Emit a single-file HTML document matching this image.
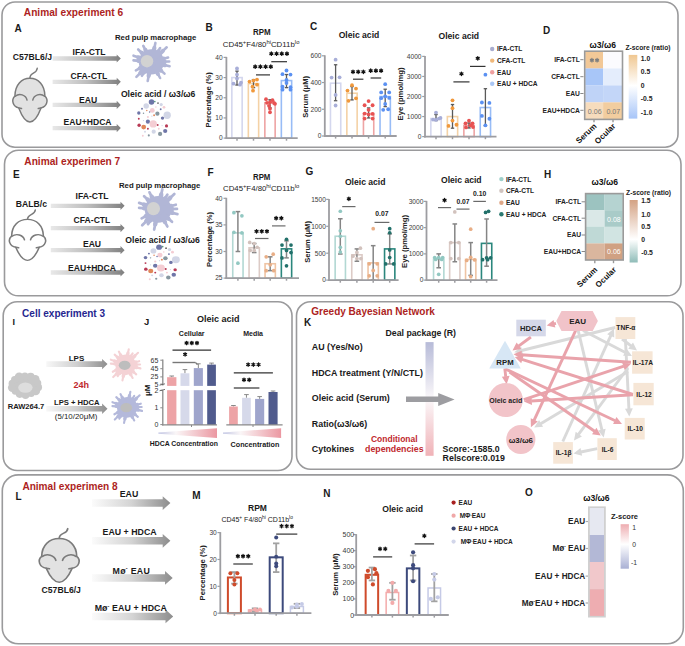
<!DOCTYPE html>
<html><head><meta charset="utf-8"><title>Figure</title>
<style>html,body{margin:0;padding:0;background:#fff;}svg{display:block;}svg text{font-family:"Liberation Sans",sans-serif;}</style>
</head><body>
<svg width="685" height="646" viewBox="0 0 685 646">
<rect width="685" height="646" fill="#ffffff"/>
<defs></defs>
<rect x="2" y="2" width="676" height="145.2" fill="none" stroke="#9a9a9c" stroke-width="1.6" rx="13"/>
<text x="23.8" y="15.8" font-size="10.17" font-weight="bold" text-anchor="start" fill="#ad1f23">Animal experiment 6</text>
<text x="14.4" y="31.8" font-size="10" font-weight="bold" text-anchor="start" fill="#1a1a1a">A</text>
<text x="12.8" y="60.1" font-size="8.65" font-weight="bold" text-anchor="start" fill="#1a1a1a">C57BL6/J</text>
<g transform="translate(29.9 78.3) scale(1.02 1)" fill="#e2e2e2" stroke="#7b7b7b" stroke-width="1.45" stroke-linecap="round" stroke-linejoin="round">
<path d="M0 43.6 C-4.2 43.6 -7.8 38 -10.9 29.6 A7.1 7.1 0 0 1 -14.7 17.6 C-14.5 6.5 -8.3 0 0 0 C8.3 0 14.5 6.5 14.7 17.6 A7.1 7.1 0 0 1 10.9 29.6 C7.8 38 4.2 43.6 0 43.6 Z"/>
<path fill="none" d="M-14.4 18 A7.1 7.1 0 0 1 -2.8 21.8 M14.4 18 A7.1 7.1 0 0 0 2.8 21.8 M-10.9 29.6 L-8.2 30.2 M10.9 29.6 L8.2 30.2"/>
<path fill="none" d="M0 0 C0 -3 1.5 -4.2 3.8 -5.4 C6 -6.6 7 -8 7.2 -10"/>
</g>
<linearGradient id="ga1" gradientUnits="userSpaceOnUse" x1="52.6" y1="0" x2="120.8" y2="0"><stop offset="0" stop-color="#e8e8e8"/><stop offset="0.5" stop-color="#bebebe"/><stop offset="1" stop-color="#7f7f7f"/></linearGradient>
<path d="M52.6 56.35 L116.7 56.35 L116.7 54.4 L120.8 58.5 L116.7 62.6 L116.7 60.65 L52.6 60.65 Z" fill="url(#ga1)"/>
<linearGradient id="ga2" gradientUnits="userSpaceOnUse" x1="52.6" y1="0" x2="120.8" y2="0"><stop offset="0" stop-color="#e8e8e8"/><stop offset="0.5" stop-color="#bebebe"/><stop offset="1" stop-color="#7f7f7f"/></linearGradient>
<path d="M52.6 79.65 L116.7 79.65 L116.7 77.7 L120.8 81.8 L116.7 85.9 L116.7 83.95 L52.6 83.95 Z" fill="url(#ga2)"/>
<linearGradient id="ga3" gradientUnits="userSpaceOnUse" x1="52.6" y1="0" x2="120.8" y2="0"><stop offset="0" stop-color="#e8e8e8"/><stop offset="0.5" stop-color="#bebebe"/><stop offset="1" stop-color="#7f7f7f"/></linearGradient>
<path d="M52.6 102.75 L116.7 102.75 L116.7 100.8 L120.8 104.9 L116.7 109 L116.7 107.05 L52.6 107.05 Z" fill="url(#ga3)"/>
<linearGradient id="ga4" gradientUnits="userSpaceOnUse" x1="52.6" y1="0" x2="120.8" y2="0"><stop offset="0" stop-color="#e8e8e8"/><stop offset="0.5" stop-color="#bebebe"/><stop offset="1" stop-color="#7f7f7f"/></linearGradient>
<path d="M52.6 125.95 L116.7 125.95 L116.7 124 L120.8 128.1 L116.7 132.2 L116.7 130.25 L52.6 130.25 Z" fill="url(#ga4)"/>
<text x="89" y="54.6" font-size="8.6" font-weight="bold" text-anchor="middle" fill="#1a1a1a">IFA-CTL</text>
<text x="89" y="78.6" font-size="8.6" font-weight="bold" text-anchor="middle" fill="#1a1a1a">CFA-CTL</text>
<text x="88.2" y="102.7" font-size="8.6" font-weight="bold" text-anchor="middle" fill="#1a1a1a">EAU</text>
<text x="87.6" y="124.6" font-size="8.6" font-weight="bold" text-anchor="middle" fill="#1a1a1a">EAU+HDCA</text>
<text x="115" y="40.4" font-size="7.75" font-weight="bold" text-anchor="start" fill="#1a1a1a">Red pulp macrophage</text>
<g transform="translate(151.4 61.9) scale(1)">
<circle r="12.6" fill="#b1b6d6"/>
<path d="M2 -9.5 L4 -19 M7.65 -7.3 L15.3 -14.6 M-4.05 -8.05 L-8.1 -16.1 M-6.6 -6.2 L-13.2 -12.4 M-8.95 -3.1 L-17.9 -6.2 M-8.95 -0.75 L-17.9 -1.5 M8.9 -0.2 L17.8 -0.4 M9.1 2.2 L18.2 4.4 M8.35 -2.2 L16.7 -4.4 M6.55 5.85 L13.1 11.7 M4.35 8.05 L8.7 16.1 M-1.85 9.5 L-3.7 19 M-7.5 7.5 L-15 15 M-4.75 6.95 L-9.5 13.9 M4.35 -6.95 L8.7 -13.9 M-7.75 4.25 L-15.5 8.5 " stroke="#b1b6d6" stroke-width="2.6" stroke-linecap="round"/>
<path d="M1.6 -7.6 L2.96 -14.06 M6.12 -5.84 L11.32 -10.8 M-3.24 -6.44 L-5.99 -11.91 M-5.28 -4.96 L-9.77 -9.18 M-7.16 -2.48 L-13.25 -4.59 M-7.16 -0.6 L-13.25 -1.11 M7.12 -0.16 L13.17 -0.3 M7.28 1.76 L13.47 3.26 M6.68 -1.76 L12.36 -3.26 M5.24 4.68 L9.69 8.66 M3.48 6.44 L6.44 11.91 M-1.48 7.6 L-2.74 14.06 M-6 6 L-11.1 11.1 M-3.8 5.56 L-7.03 10.29 M3.48 -5.56 L6.44 -10.29 M-6.2 3.4 L-11.47 6.29 " stroke="#b1b6d6" stroke-width="4.2" stroke-linecap="round"/>
<circle cx="-4.4" cy="-0.7" r="6.2" fill="#d2d2d2"/>
</g>
<text x="120.9" y="97" font-size="8.64" font-weight="bold" text-anchor="start" fill="#1a1a1a">Oleic acid / ω3/ω6</text>
<g transform="translate(153 118.7) scale(1 1) translate(-153 -118.7)">
<circle cx="151.5" cy="102" r="2.73" fill="#6f76a8"/>
<circle cx="154.8" cy="101.5" r="0.84" fill="#5a9a80"/>
<circle cx="158" cy="103.1" r="0.95" fill="#707070"/>
<circle cx="146.2" cy="106" r="2.73" fill="#d2d6e6"/>
<circle cx="161.2" cy="104.6" r="1.58" fill="#d2d6e6"/>
<circle cx="164" cy="107.3" r="1.37" fill="#f4cdd3"/>
<circle cx="155.9" cy="107.1" r="0.73" fill="#f4cdd3"/>
<circle cx="142" cy="108.8" r="0.95" fill="#6f76a8"/>
<circle cx="146.8" cy="110.6" r="0.73" fill="#e0875a"/>
<circle cx="152.3" cy="110.4" r="2.42" fill="#f4cdd3"/>
<circle cx="149.6" cy="111.9" r="0.73" fill="#6f76a8"/>
<circle cx="160.7" cy="109.3" r="0.95" fill="#6f76a8"/>
<circle cx="138.8" cy="113" r="1.68" fill="#6f76a8"/>
<circle cx="143.5" cy="113.3" r="0.73" fill="#8797a0"/>
<circle cx="157.4" cy="113.7" r="2.1" fill="#8797a0"/>
<circle cx="154.1" cy="115.2" r="0.95" fill="#e0875a"/>
<circle cx="167.2" cy="115.2" r="3.68" fill="#d2d6e6"/>
<circle cx="147.9" cy="117" r="1.05" fill="#f4cdd3"/>
<circle cx="151.9" cy="116.2" r="0.63" fill="#d2d6e6"/>
<circle cx="162.5" cy="118.1" r="1.68" fill="#6f76a8"/>
<circle cx="138.8" cy="118.8" r="0.95" fill="#b83a55"/>
<circle cx="143.5" cy="120.6" r="0.63" fill="#d2d6e6"/>
<circle cx="147.9" cy="121.7" r="2.1" fill="#6f76a8"/>
<circle cx="153.2" cy="123.9" r="3.68" fill="#f4cdd3"/>
<circle cx="139.1" cy="125.2" r="1.68" fill="#b83a55"/>
<circle cx="143.7" cy="127.1" r="2.42" fill="#e0875a"/>
<circle cx="157.7" cy="125" r="0.95" fill="#b83a55"/>
<circle cx="166.5" cy="125.9" r="1.58" fill="#b83a55"/>
<circle cx="147.9" cy="128.8" r="0.95" fill="#b83a55"/>
<circle cx="158.8" cy="128.8" r="0.95" fill="#f4cdd3"/>
<circle cx="153.7" cy="131.7" r="2.1" fill="#d2d6e6"/>
<circle cx="165.2" cy="131" r="2.1" fill="#6f76a8"/>
<circle cx="160.1" cy="133.9" r="2.1" fill="#8797a0"/>
<circle cx="145" cy="131.7" r="0.95" fill="#d2d6e6"/>
<circle cx="148.8" cy="135.4" r="1.05" fill="#8797a0"/>
<circle cx="142.8" cy="135.8" r="0.95" fill="#f4cdd3"/>
<circle cx="162.1" cy="125.6" r="0.63" fill="#d2d6e6"/>
</g>
<text x="205.4" y="30.7" font-size="10" font-weight="bold" text-anchor="start" fill="#1a1a1a">B</text>
<text x="261.8" y="35.4" font-size="9.1" font-weight="bold" text-anchor="middle" fill="#1a1a1a" textLength="17.6" lengthAdjust="spacingAndGlyphs">RPM</text>
<text x="222.8" y="46.6" font-size="7.1" fill="#222" textLength="76.6" lengthAdjust="spacingAndGlyphs">CD45<tspan font-size="5.3" dy="-3">+</tspan><tspan dy="3">F4/80</tspan><tspan font-size="5.3" dy="-3">hi</tspan><tspan dy="3">CD11b</tspan><tspan font-size="5.3" dy="-3">lo</tspan></text>
<text x="211.3" y="99.8" font-size="7.65" font-weight="bold" text-anchor="middle" fill="#222" transform="rotate(-90 211.3 99.8)">Percentage (%)</text>
<rect x="231.85" y="77.58" width="10.3" height="60.52" fill="#ffffff" stroke="#d4d7ee" stroke-width="1.6" rx="0"/>
<rect x="248.35" y="83.63" width="10.3" height="54.47" fill="#ffffff" stroke="#f4d2a6" stroke-width="1.6" rx="0"/>
<rect x="264.85" y="102.79" width="10.3" height="35.31" fill="#ffffff" stroke="#eea4a4" stroke-width="1.6" rx="0"/>
<rect x="281.35" y="80.6" width="10.3" height="57.5" fill="#ffffff" stroke="#98bcf6" stroke-width="1.6" rx="0"/>
<line x1="237" y1="85.04" x2="237" y2="71.12" stroke="#5a5a5a" stroke-width="1.3"/>
<line x1="235.3" y1="85.04" x2="238.7" y2="85.04" stroke="#5a5a5a" stroke-width="1.3"/>
<line x1="235.3" y1="71.12" x2="238.7" y2="71.12" stroke="#5a5a5a" stroke-width="1.3"/>
<line x1="253.5" y1="87.66" x2="253.5" y2="79.59" stroke="#5a5a5a" stroke-width="1.3"/>
<line x1="251.8" y1="87.66" x2="255.2" y2="87.66" stroke="#5a5a5a" stroke-width="1.3"/>
<line x1="251.8" y1="79.59" x2="255.2" y2="79.59" stroke="#5a5a5a" stroke-width="1.3"/>
<line x1="270" y1="107.84" x2="270" y2="99.77" stroke="#5a5a5a" stroke-width="1.3"/>
<line x1="268.3" y1="107.84" x2="271.7" y2="107.84" stroke="#5a5a5a" stroke-width="1.3"/>
<line x1="268.3" y1="99.77" x2="271.7" y2="99.77" stroke="#5a5a5a" stroke-width="1.3"/>
<line x1="286.5" y1="87.66" x2="286.5" y2="74.55" stroke="#5a5a5a" stroke-width="1.3"/>
<line x1="284.8" y1="87.66" x2="288.2" y2="87.66" stroke="#5a5a5a" stroke-width="1.3"/>
<line x1="284.8" y1="74.55" x2="288.2" y2="74.55" stroke="#5a5a5a" stroke-width="1.3"/>
<circle cx="237" cy="68.5" r="1.9" fill="#a8aed8"/>
<circle cx="237" cy="74.55" r="1.9" fill="#a8aed8"/>
<circle cx="233.5" cy="83.63" r="1.9" fill="#a8aed8"/>
<circle cx="241" cy="82.62" r="1.9" fill="#a8aed8"/>
<circle cx="237" cy="78.58" r="1.9" fill="#a8aed8"/>
<circle cx="240" cy="84.64" r="1.9" fill="#a8aed8"/>
<circle cx="249.5" cy="81.61" r="1.9" fill="#f0983c"/>
<circle cx="253.5" cy="80.6" r="1.9" fill="#f0983c"/>
<circle cx="257" cy="79.59" r="1.9" fill="#f0983c"/>
<circle cx="252.5" cy="86.65" r="1.9" fill="#f0983c"/>
<circle cx="253" cy="90.69" r="1.9" fill="#f0983c"/>
<circle cx="257" cy="84.64" r="1.9" fill="#f0983c"/>
<circle cx="266" cy="99.16" r="1.9" fill="#e85252"/>
<circle cx="272.5" cy="100.17" r="1.9" fill="#e85252"/>
<circle cx="267" cy="102.79" r="1.9" fill="#e85252"/>
<circle cx="270" cy="102.19" r="1.9" fill="#e85252"/>
<circle cx="274" cy="103" r="1.9" fill="#e85252"/>
<circle cx="269" cy="105.82" r="1.9" fill="#e85252"/>
<circle cx="270" cy="108.85" r="1.9" fill="#e85252"/>
<circle cx="270" cy="112.28" r="1.9" fill="#e85252"/>
<circle cx="275" cy="103.8" r="1.9" fill="#e85252"/>
<circle cx="286.5" cy="70.51" r="1.9" fill="#5b91f2"/>
<circle cx="282.5" cy="74.15" r="1.9" fill="#5b91f2"/>
<circle cx="290.5" cy="74.55" r="1.9" fill="#5b91f2"/>
<circle cx="286.5" cy="80" r="1.9" fill="#5b91f2"/>
<circle cx="282.5" cy="86.65" r="1.9" fill="#5b91f2"/>
<circle cx="290.5" cy="87.26" r="1.9" fill="#5b91f2"/>
<circle cx="282.5" cy="89.68" r="1.9" fill="#5b91f2"/>
<circle cx="290.5" cy="89.68" r="1.9" fill="#5b91f2"/>
<circle cx="286.5" cy="83.02" r="1.9" fill="#5b91f2"/>
<line x1="226.4" y1="56.9" x2="226.4" y2="139" stroke="#9d9da1" stroke-width="1.8"/>
<line x1="225.5" y1="138.1" x2="297.7" y2="138.1" stroke="#9d9da1" stroke-width="1.8"/>
<line x1="223.6" y1="138.1" x2="226.4" y2="138.1" stroke="#9d9da1" stroke-width="1.2"/>
<text x="222.6" y="140.48" font-size="6.6" font-weight="normal" text-anchor="end" fill="#3a3a3a">0</text>
<line x1="223.6" y1="117.92" x2="226.4" y2="117.92" stroke="#9d9da1" stroke-width="1.2"/>
<text x="222.6" y="120.3" font-size="6.6" font-weight="normal" text-anchor="end" fill="#3a3a3a">10</text>
<line x1="223.6" y1="97.75" x2="226.4" y2="97.75" stroke="#9d9da1" stroke-width="1.2"/>
<text x="222.6" y="100.13" font-size="6.6" font-weight="normal" text-anchor="end" fill="#3a3a3a">20</text>
<line x1="223.6" y1="77.58" x2="226.4" y2="77.58" stroke="#9d9da1" stroke-width="1.2"/>
<text x="222.6" y="79.95" font-size="6.6" font-weight="normal" text-anchor="end" fill="#3a3a3a">30</text>
<line x1="223.6" y1="57.4" x2="226.4" y2="57.4" stroke="#9d9da1" stroke-width="1.2"/>
<text x="222.6" y="59.78" font-size="6.6" font-weight="normal" text-anchor="end" fill="#3a3a3a">40</text>
<line x1="237" y1="138.1" x2="237" y2="140.7" stroke="#9d9da1" stroke-width="1.5"/>
<line x1="253.5" y1="138.1" x2="253.5" y2="140.7" stroke="#9d9da1" stroke-width="1.5"/>
<line x1="270" y1="138.1" x2="270" y2="140.7" stroke="#9d9da1" stroke-width="1.5"/>
<line x1="286.5" y1="138.1" x2="286.5" y2="140.7" stroke="#9d9da1" stroke-width="1.5"/>
<line x1="271.3" y1="61.7" x2="287" y2="61.7" stroke="#333" stroke-width="1.2"/>
<path d="M271.35 52 L271.35 55.4 M269.88 52.85 L272.82 54.55 M269.88 54.55 L272.82 52.85 M276.55 52 L276.55 55.4 M275.08 52.85 L278.02 54.55 M275.08 54.55 L278.02 52.85 M281.75 52 L281.75 55.4 M280.28 52.85 L283.22 54.55 M280.28 54.55 L283.22 52.85 M286.95 52 L286.95 55.4 M285.48 52.85 L288.42 54.55 M285.48 54.55 L288.42 52.85 " stroke="#111" stroke-width="1.3" stroke-linecap="round" fill="none"/>
<line x1="256" y1="74.9" x2="270" y2="74.9" stroke="#333" stroke-width="1.2"/>
<path d="M255.2 65 L255.2 68.4 M253.73 65.85 L256.67 67.55 M253.73 67.55 L256.67 65.85 M260.4 65 L260.4 68.4 M258.93 65.85 L261.87 67.55 M258.93 67.55 L261.87 65.85 M265.6 65 L265.6 68.4 M264.13 65.85 L267.07 67.55 M264.13 67.55 L267.07 65.85 M270.8 65 L270.8 68.4 M269.33 65.85 L272.27 67.55 M269.33 67.55 L272.27 65.85 " stroke="#111" stroke-width="1.3" stroke-linecap="round" fill="none"/>
<text x="310" y="29.7" font-size="10" font-weight="bold" text-anchor="start" fill="#1a1a1a">C</text>
<text x="338.7" y="37.8" font-size="8.6" font-weight="bold" text-anchor="start" fill="#1a1a1a">Oleic acid</text>
<text x="308.2" y="96.8" font-size="7.6" font-weight="bold" text-anchor="middle" fill="#222" transform="rotate(-90 308.2 96.8)">Serum (μM)</text>
<rect x="330.45" y="83.2" width="10.3" height="52.8" fill="#ffffff" stroke="#d4d7ee" stroke-width="1.6" rx="0"/>
<rect x="346.85" y="93.23" width="10.3" height="42.77" fill="#ffffff" stroke="#f4d2a6" stroke-width="1.6" rx="0"/>
<rect x="363.45" y="113.54" width="10.3" height="22.46" fill="#ffffff" stroke="#eea4a4" stroke-width="1.6" rx="0"/>
<rect x="380.05" y="96.57" width="10.3" height="39.43" fill="#ffffff" stroke="#98bcf6" stroke-width="1.6" rx="0"/>
<line x1="335.6" y1="100.71" x2="335.6" y2="64.76" stroke="#5a5a5a" stroke-width="1.3"/>
<line x1="333.9" y1="100.71" x2="337.3" y2="100.71" stroke="#5a5a5a" stroke-width="1.3"/>
<line x1="333.9" y1="64.76" x2="337.3" y2="64.76" stroke="#5a5a5a" stroke-width="1.3"/>
<line x1="352" y1="99.91" x2="352" y2="86.54" stroke="#5a5a5a" stroke-width="1.3"/>
<line x1="350.3" y1="99.91" x2="353.7" y2="99.91" stroke="#5a5a5a" stroke-width="1.3"/>
<line x1="350.3" y1="86.54" x2="353.7" y2="86.54" stroke="#5a5a5a" stroke-width="1.3"/>
<line x1="368.6" y1="117.95" x2="368.6" y2="107.93" stroke="#5a5a5a" stroke-width="1.3"/>
<line x1="366.9" y1="117.95" x2="370.3" y2="117.95" stroke="#5a5a5a" stroke-width="1.3"/>
<line x1="366.9" y1="107.93" x2="370.3" y2="107.93" stroke="#5a5a5a" stroke-width="1.3"/>
<line x1="385.2" y1="106.59" x2="385.2" y2="89.22" stroke="#5a5a5a" stroke-width="1.3"/>
<line x1="383.5" y1="106.59" x2="386.9" y2="106.59" stroke="#5a5a5a" stroke-width="1.3"/>
<line x1="383.5" y1="89.22" x2="386.9" y2="89.22" stroke="#5a5a5a" stroke-width="1.3"/>
<circle cx="335.6" cy="59.68" r="1.9" fill="#a8aed8"/>
<circle cx="331.6" cy="77.59" r="1.9" fill="#a8aed8"/>
<circle cx="339.6" cy="77.32" r="1.9" fill="#a8aed8"/>
<circle cx="335.6" cy="94.96" r="1.9" fill="#a8aed8"/>
<circle cx="335.6" cy="105.52" r="1.9" fill="#a8aed8"/>
<circle cx="347.5" cy="90.55" r="1.9" fill="#f0983c"/>
<circle cx="352" cy="85.21" r="1.9" fill="#f0983c"/>
<circle cx="356" cy="88.55" r="1.9" fill="#f0983c"/>
<circle cx="348.5" cy="100.85" r="1.9" fill="#f0983c"/>
<circle cx="356" cy="98.31" r="1.9" fill="#f0983c"/>
<circle cx="368.6" cy="101.11" r="1.9" fill="#e85252"/>
<circle cx="364.6" cy="105.26" r="1.9" fill="#e85252"/>
<circle cx="372.6" cy="105.26" r="1.9" fill="#e85252"/>
<circle cx="364.6" cy="113.54" r="1.9" fill="#e85252"/>
<circle cx="368.6" cy="109.8" r="1.9" fill="#e85252"/>
<circle cx="372.6" cy="113.94" r="1.9" fill="#e85252"/>
<circle cx="364.6" cy="118.62" r="1.9" fill="#e85252"/>
<circle cx="372.6" cy="118.62" r="1.9" fill="#e85252"/>
<circle cx="368.6" cy="114.61" r="1.9" fill="#e85252"/>
<circle cx="385.2" cy="84.14" r="1.9" fill="#5b91f2"/>
<circle cx="381.2" cy="92.42" r="1.9" fill="#5b91f2"/>
<circle cx="389.2" cy="92.42" r="1.9" fill="#5b91f2"/>
<circle cx="385.2" cy="96.43" r="1.9" fill="#5b91f2"/>
<circle cx="381.2" cy="98.17" r="1.9" fill="#5b91f2"/>
<circle cx="389.2" cy="97.91" r="1.9" fill="#5b91f2"/>
<circle cx="383.2" cy="109.8" r="1.9" fill="#5b91f2"/>
<circle cx="388.2" cy="109.27" r="1.9" fill="#5b91f2"/>
<circle cx="385.2" cy="103.92" r="1.9" fill="#5b91f2"/>
<line x1="324.8" y1="55.3" x2="324.8" y2="136.9" stroke="#9d9da1" stroke-width="1.8"/>
<line x1="323.9" y1="136" x2="396.7" y2="136" stroke="#9d9da1" stroke-width="1.8"/>
<line x1="322" y1="136" x2="324.8" y2="136" stroke="#9d9da1" stroke-width="1.2"/>
<text x="321.5" y="138.38" font-size="6.6" font-weight="normal" text-anchor="end" fill="#3a3a3a">0</text>
<line x1="322" y1="109.27" x2="324.8" y2="109.27" stroke="#9d9da1" stroke-width="1.2"/>
<text x="321.5" y="111.64" font-size="6.6" font-weight="normal" text-anchor="end" fill="#3a3a3a">200</text>
<line x1="322" y1="82.53" x2="324.8" y2="82.53" stroke="#9d9da1" stroke-width="1.2"/>
<text x="321.5" y="84.91" font-size="6.6" font-weight="normal" text-anchor="end" fill="#3a3a3a">400</text>
<line x1="322" y1="55.8" x2="324.8" y2="55.8" stroke="#9d9da1" stroke-width="1.2"/>
<text x="321.5" y="58.18" font-size="6.6" font-weight="normal" text-anchor="end" fill="#3a3a3a">600</text>
<line x1="335.6" y1="136" x2="335.6" y2="138.6" stroke="#9d9da1" stroke-width="1.5"/>
<line x1="352" y1="136" x2="352" y2="138.6" stroke="#9d9da1" stroke-width="1.5"/>
<line x1="368.6" y1="136" x2="368.6" y2="138.6" stroke="#9d9da1" stroke-width="1.5"/>
<line x1="385.2" y1="136" x2="385.2" y2="138.6" stroke="#9d9da1" stroke-width="1.5"/>
<line x1="353" y1="79.2" x2="363.4" y2="79.2" stroke="#333" stroke-width="1.2"/>
<path d="M353 70.1 L353 73.5 M351.53 70.95 L354.47 72.65 M351.53 72.65 L354.47 70.95 M358.2 70.1 L358.2 73.5 M356.73 70.95 L359.67 72.65 M356.73 72.65 L359.67 70.95 M363.4 70.1 L363.4 73.5 M361.93 70.95 L364.87 72.65 M361.93 72.65 L364.87 70.95 " stroke="#111" stroke-width="1.3" stroke-linecap="round" fill="none"/>
<line x1="370.6" y1="78" x2="381.2" y2="78" stroke="#333" stroke-width="1.2"/>
<path d="M370.7 69 L370.7 72.4 M369.23 69.85 L372.17 71.55 M369.23 71.55 L372.17 69.85 M375.9 69 L375.9 72.4 M374.43 69.85 L377.37 71.55 M374.43 71.55 L377.37 69.85 M381.1 69 L381.1 72.4 M379.63 69.85 L382.57 71.55 M379.63 71.55 L382.57 69.85 " stroke="#111" stroke-width="1.3" stroke-linecap="round" fill="none"/>
<text x="438.5" y="39.3" font-size="8.6" font-weight="bold" text-anchor="start" fill="#1a1a1a">Oleic acid</text>
<text x="402.5" y="94" font-size="7.7" font-weight="bold" text-anchor="middle" fill="#222" transform="rotate(-90 402.5 94)">Eye (pmol/mg)</text>
<rect x="430.85" y="118.55" width="10.3" height="18.05" fill="#ffffff" stroke="#d4d7ee" stroke-width="1.6" rx="0"/>
<rect x="447.35" y="116.55" width="10.3" height="20.05" fill="#ffffff" stroke="#f4d2a6" stroke-width="1.6" rx="0"/>
<rect x="463.85" y="125.37" width="10.3" height="11.23" fill="#ffffff" stroke="#eea4a4" stroke-width="1.6" rx="0"/>
<rect x="480.25" y="107.53" width="10.3" height="29.07" fill="#ffffff" stroke="#98bcf6" stroke-width="1.6" rx="0"/>
<line x1="436" y1="120.56" x2="436" y2="114.54" stroke="#5a5a5a" stroke-width="1.3"/>
<line x1="434.3" y1="120.56" x2="437.7" y2="120.56" stroke="#5a5a5a" stroke-width="1.3"/>
<line x1="434.3" y1="114.54" x2="437.7" y2="114.54" stroke="#5a5a5a" stroke-width="1.3"/>
<line x1="452.5" y1="128.18" x2="452.5" y2="104.52" stroke="#5a5a5a" stroke-width="1.3"/>
<line x1="450.8" y1="128.18" x2="454.2" y2="128.18" stroke="#5a5a5a" stroke-width="1.3"/>
<line x1="450.8" y1="104.52" x2="454.2" y2="104.52" stroke="#5a5a5a" stroke-width="1.3"/>
<line x1="469" y1="127.98" x2="469" y2="122.97" stroke="#5a5a5a" stroke-width="1.3"/>
<line x1="467.3" y1="127.98" x2="470.7" y2="127.98" stroke="#5a5a5a" stroke-width="1.3"/>
<line x1="467.3" y1="122.97" x2="470.7" y2="122.97" stroke="#5a5a5a" stroke-width="1.3"/>
<line x1="485.4" y1="125.77" x2="485.4" y2="88.68" stroke="#5a5a5a" stroke-width="1.3"/>
<line x1="483.7" y1="125.77" x2="487.1" y2="125.77" stroke="#5a5a5a" stroke-width="1.3"/>
<line x1="483.7" y1="88.68" x2="487.1" y2="88.68" stroke="#5a5a5a" stroke-width="1.3"/>
<circle cx="436" cy="112.54" r="1.9" fill="#a8aed8"/>
<circle cx="433" cy="119.56" r="1.9" fill="#a8aed8"/>
<circle cx="439" cy="118.55" r="1.9" fill="#a8aed8"/>
<circle cx="436" cy="119.96" r="1.9" fill="#a8aed8"/>
<circle cx="440.5" cy="117.95" r="1.9" fill="#a8aed8"/>
<circle cx="452.5" cy="100.31" r="1.9" fill="#f0983c"/>
<circle cx="452.5" cy="108.13" r="1.9" fill="#f0983c"/>
<circle cx="452.5" cy="120.56" r="1.9" fill="#f0983c"/>
<circle cx="448.5" cy="125.97" r="1.9" fill="#f0983c"/>
<circle cx="456.5" cy="124.77" r="1.9" fill="#f0983c"/>
<circle cx="469" cy="120.76" r="1.9" fill="#e85252"/>
<circle cx="465.5" cy="123.37" r="1.9" fill="#e85252"/>
<circle cx="472.5" cy="123.37" r="1.9" fill="#e85252"/>
<circle cx="470.5" cy="125.37" r="1.9" fill="#e85252"/>
<circle cx="466" cy="127.38" r="1.9" fill="#e85252"/>
<circle cx="473" cy="126.98" r="1.9" fill="#e85252"/>
<circle cx="485.4" cy="74.65" r="1.9" fill="#5b91f2"/>
<circle cx="481.9" cy="102.52" r="1.9" fill="#5b91f2"/>
<circle cx="489.4" cy="102.92" r="1.9" fill="#5b91f2"/>
<circle cx="481.9" cy="115.95" r="1.9" fill="#5b91f2"/>
<circle cx="489.4" cy="118.76" r="1.9" fill="#5b91f2"/>
<circle cx="485.4" cy="125.37" r="1.9" fill="#5b91f2"/>
<line x1="425" y1="55.9" x2="425" y2="137.5" stroke="#9d9da1" stroke-width="1.8"/>
<line x1="424.1" y1="136.6" x2="496.5" y2="136.6" stroke="#9d9da1" stroke-width="1.8"/>
<line x1="422.2" y1="136.6" x2="425" y2="136.6" stroke="#9d9da1" stroke-width="1.2"/>
<text x="421.5" y="138.98" font-size="6.6" font-weight="normal" text-anchor="end" fill="#3a3a3a">0</text>
<line x1="422.2" y1="116.55" x2="425" y2="116.55" stroke="#9d9da1" stroke-width="1.2"/>
<text x="421.5" y="118.93" font-size="6.6" font-weight="normal" text-anchor="end" fill="#3a3a3a">1000</text>
<line x1="422.2" y1="96.5" x2="425" y2="96.5" stroke="#9d9da1" stroke-width="1.2"/>
<text x="421.5" y="98.88" font-size="6.6" font-weight="normal" text-anchor="end" fill="#3a3a3a">2000</text>
<line x1="422.2" y1="76.45" x2="425" y2="76.45" stroke="#9d9da1" stroke-width="1.2"/>
<text x="421.5" y="78.83" font-size="6.6" font-weight="normal" text-anchor="end" fill="#3a3a3a">3000</text>
<line x1="422.2" y1="56.4" x2="425" y2="56.4" stroke="#9d9da1" stroke-width="1.2"/>
<text x="421.5" y="58.78" font-size="6.6" font-weight="normal" text-anchor="end" fill="#3a3a3a">4000</text>
<line x1="436" y1="136.6" x2="436" y2="139.2" stroke="#9d9da1" stroke-width="1.5"/>
<line x1="452.5" y1="136.6" x2="452.5" y2="139.2" stroke="#9d9da1" stroke-width="1.5"/>
<line x1="469" y1="136.6" x2="469" y2="139.2" stroke="#9d9da1" stroke-width="1.5"/>
<line x1="485.4" y1="136.6" x2="485.4" y2="139.2" stroke="#9d9da1" stroke-width="1.5"/>
<line x1="453.4" y1="81.9" x2="469.5" y2="81.9" stroke="#333" stroke-width="1.2"/>
<path d="M461.45 72.1 L461.45 75.5 M459.98 72.95 L462.92 74.65 M459.98 74.65 L462.92 72.95 " stroke="#111" stroke-width="1.3" stroke-linecap="round" fill="none"/>
<line x1="470" y1="66.4" x2="485.5" y2="66.4" stroke="#333" stroke-width="1.2"/>
<path d="M477.75 56.6 L477.75 60 M476.28 57.45 L479.22 59.15 M476.28 59.15 L479.22 57.45 " stroke="#111" stroke-width="1.3" stroke-linecap="round" fill="none"/>
<circle cx="492.2" cy="49" r="2.2" fill="#a9add0"/>
<text x="497" y="51.4" font-size="6.6" font-weight="bold" text-anchor="start" fill="#222">IFA-CTL</text>
<circle cx="492.2" cy="60.6" r="2.2" fill="#f0b87a"/>
<text x="497" y="63" font-size="6.6" font-weight="bold" text-anchor="start" fill="#222">CFA-CTL</text>
<circle cx="492.2" cy="72.2" r="2.2" fill="#f0a0a0"/>
<text x="497" y="74.6" font-size="6.6" font-weight="bold" text-anchor="start" fill="#222">EAU</text>
<circle cx="492.2" cy="83.8" r="2.2" fill="#a9c6f5"/>
<text x="497" y="86.2" font-size="6.6" font-weight="bold" text-anchor="start" fill="#222">EAU + HDCA</text>
<text x="543" y="33.5" font-size="10" font-weight="bold" text-anchor="start" fill="#1a1a1a">D</text>
<text x="602.7" y="47.8" font-size="8.6" font-weight="bold" text-anchor="middle" fill="#111">ω3/ω6</text>
<rect x="585.2" y="51.5" width="17.9" height="17.05" fill="#f2c897" stroke="none" stroke-width="1" rx="0"/>
<rect x="603.1" y="51.5" width="18.9" height="17.05" fill="#fbfbfe" stroke="none" stroke-width="1" rx="0"/>
<rect x="585.2" y="68.45" width="17.9" height="17.05" fill="#a8c6f8" stroke="none" stroke-width="1" rx="0"/>
<rect x="603.1" y="68.45" width="18.9" height="17.05" fill="#e4edfc" stroke="none" stroke-width="1" rx="0"/>
<rect x="585.2" y="85.4" width="17.9" height="17.05" fill="#bfd3f7" stroke="none" stroke-width="1" rx="0"/>
<rect x="603.1" y="85.4" width="18.9" height="17.05" fill="#c3d6f8" stroke="none" stroke-width="1" rx="0"/>
<rect x="585.2" y="102.35" width="17.9" height="17.05" fill="#f6dcbd" stroke="none" stroke-width="1" rx="0"/>
<rect x="603.1" y="102.35" width="18.9" height="17.05" fill="#f2cd9f" stroke="none" stroke-width="1" rx="0"/>
<rect x="584.7" y="51.2" width="37.8" height="68.2" fill="none" stroke="#9a9a9a" stroke-width="1.6" rx="0"/>
<path d="M591.9 58.5 L591.9 61.9 M590.43 59.35 L593.37 61.05 M590.43 61.05 L593.37 59.35 M597.1 58.5 L597.1 61.9 M595.63 59.35 L598.57 61.05 M595.63 61.05 L598.57 59.35 " stroke="#7f7f7f" stroke-width="1.3" stroke-linecap="round" fill="none"/>
<text x="594.7" y="113.6" font-size="7.1" font-weight="normal" text-anchor="middle" fill="#7a7a7a">0.06</text>
<text x="613.3" y="113.6" font-size="7.1" font-weight="normal" text-anchor="middle" fill="#7a7a7a">0.07</text>
<text x="579.8" y="62.1" font-size="6.7" font-weight="bold" text-anchor="end" fill="#222">IFA-CTL</text>
<line x1="580.3" y1="59.7" x2="583.5" y2="59.7" stroke="#888" stroke-width="1"/>
<text x="579.8" y="79.1" font-size="6.7" font-weight="bold" text-anchor="end" fill="#222">CFA-CTL</text>
<line x1="580.3" y1="76.7" x2="583.5" y2="76.7" stroke="#888" stroke-width="1"/>
<text x="579.8" y="95.9" font-size="6.7" font-weight="bold" text-anchor="end" fill="#222">EAU</text>
<line x1="580.3" y1="93.5" x2="583.5" y2="93.5" stroke="#888" stroke-width="1"/>
<text x="579.8" y="112.7" font-size="6.7" font-weight="bold" text-anchor="end" fill="#222">EAU+HDCA</text>
<line x1="580.3" y1="110.3" x2="583.5" y2="110.3" stroke="#888" stroke-width="1"/>
<linearGradient id="gD" x1="0" y1="0" x2="0" y2="1"><stop offset="0" stop-color="#f0c791"/><stop offset="0.48" stop-color="#ffffff"/><stop offset="1" stop-color="#a7c5f8"/></linearGradient>
<rect x="628.7" y="54.9" width="8.6" height="63.7" fill="url(#gD)" stroke="none" stroke-width="1" rx="0"/>
<text x="640.8" y="60.9" font-size="6.8" font-weight="bold" text-anchor="start" fill="#222">1.0</text>
<text x="640.8" y="74.2" font-size="6.8" font-weight="bold" text-anchor="start" fill="#222">0.5</text>
<text x="640.8" y="87.9" font-size="6.8" font-weight="bold" text-anchor="start" fill="#222">0</text>
<text x="640.8" y="101.4" font-size="6.8" font-weight="bold" text-anchor="start" fill="#222">-0.5</text>
<text x="640.8" y="114.8" font-size="6.8" font-weight="bold" text-anchor="start" fill="#222">-1.0</text>
<text x="625.5" y="49.6" font-size="6.7" font-weight="bold" text-anchor="start" fill="#222">Z-score (ratio)</text>
<line x1="594" y1="119.3" x2="594" y2="122.3" stroke="#999" stroke-width="1.4"/>
<line x1="613" y1="119.3" x2="613" y2="122.3" stroke="#999" stroke-width="1.4"/>
<text x="597" y="126.8" font-size="8" font-weight="bold" text-anchor="end" fill="#111" transform="rotate(-44 597 126.8)">Serum</text>
<text x="616" y="126.8" font-size="8" font-weight="bold" text-anchor="end" fill="#111" transform="rotate(-44 616 126.8)">Ocular</text>
<rect x="4.5" y="150.2" width="676.5" height="145.6" fill="none" stroke="#9a9a9c" stroke-width="1.6" rx="14"/>
<text x="24.3" y="165.2" font-size="10.17" font-weight="bold" text-anchor="start" fill="#ad1f23">Animal experimen 7</text>
<text x="13" y="177.8" font-size="10" font-weight="bold" text-anchor="start" fill="#1a1a1a">E</text>
<text x="15.8" y="207.4" font-size="8.65" font-weight="bold" text-anchor="start" fill="#1a1a1a">BALB/c</text>
<g transform="translate(27.5 219.4) scale(1.08 0.94)" fill="#ffffff" stroke="#7b7b7b" stroke-width="1.45" stroke-linecap="round" stroke-linejoin="round">
<path d="M0 43.6 C-4.2 43.6 -7.8 38 -10.9 29.6 A7.1 7.1 0 0 1 -14.7 17.6 C-14.5 6.5 -8.3 0 0 0 C8.3 0 14.5 6.5 14.7 17.6 A7.1 7.1 0 0 1 10.9 29.6 C7.8 38 4.2 43.6 0 43.6 Z"/>
<path fill="none" d="M-14.4 18 A7.1 7.1 0 0 1 -2.8 21.8 M14.4 18 A7.1 7.1 0 0 0 2.8 21.8 M-10.9 29.6 L-8.2 30.2 M10.9 29.6 L8.2 30.2"/>
<path fill="none" d="M0 0 C0 -3 1.5 -4.2 3.8 -5.4 C6 -6.6 7 -8 7.2 -10"/>
</g>
<linearGradient id="ga5" gradientUnits="userSpaceOnUse" x1="50.8" y1="0" x2="124.6" y2="0"><stop offset="0" stop-color="#e8e8e8"/><stop offset="0.5" stop-color="#bebebe"/><stop offset="1" stop-color="#7f7f7f"/></linearGradient>
<path d="M50.8 203.65 L120.5 203.65 L120.5 201.7 L124.6 205.8 L120.5 209.9 L120.5 207.95 L50.8 207.95 Z" fill="url(#ga5)"/>
<linearGradient id="ga6" gradientUnits="userSpaceOnUse" x1="50.8" y1="0" x2="124.6" y2="0"><stop offset="0" stop-color="#e8e8e8"/><stop offset="0.5" stop-color="#bebebe"/><stop offset="1" stop-color="#7f7f7f"/></linearGradient>
<path d="M50.8 225.95 L120.5 225.95 L120.5 224 L124.6 228.1 L120.5 232.2 L120.5 230.25 L50.8 230.25 Z" fill="url(#ga6)"/>
<linearGradient id="ga7" gradientUnits="userSpaceOnUse" x1="50.8" y1="0" x2="124.6" y2="0"><stop offset="0" stop-color="#e8e8e8"/><stop offset="0.5" stop-color="#bebebe"/><stop offset="1" stop-color="#7f7f7f"/></linearGradient>
<path d="M50.8 248.05 L120.5 248.05 L120.5 246.1 L124.6 250.2 L120.5 254.3 L120.5 252.35 L50.8 252.35 Z" fill="url(#ga7)"/>
<linearGradient id="ga8" gradientUnits="userSpaceOnUse" x1="50.8" y1="0" x2="124.6" y2="0"><stop offset="0" stop-color="#e8e8e8"/><stop offset="0.5" stop-color="#bebebe"/><stop offset="1" stop-color="#7f7f7f"/></linearGradient>
<path d="M50.8 270.35 L120.5 270.35 L120.5 268.4 L124.6 272.5 L120.5 276.6 L120.5 274.65 L50.8 274.65 Z" fill="url(#ga8)"/>
<text x="92" y="199.4" font-size="8.6" font-weight="bold" text-anchor="middle" fill="#1a1a1a">IFA-CTL</text>
<text x="92" y="223.2" font-size="8.6" font-weight="bold" text-anchor="middle" fill="#1a1a1a">CFA-CTL</text>
<text x="92" y="247.2" font-size="8.6" font-weight="bold" text-anchor="middle" fill="#1a1a1a">EAU</text>
<text x="92" y="270.8" font-size="8.6" font-weight="bold" text-anchor="middle" fill="#1a1a1a">EAU+HDCA</text>
<text x="119" y="187.7" font-size="7.75" font-weight="bold" text-anchor="start" fill="#1a1a1a">Red pulp macrophage</text>
<g transform="translate(158.1 209.4) scale(1.06)">
<circle r="12.6" fill="#b1b6d6"/>
<path d="M2 -9.5 L4 -19 M7.65 -7.3 L15.3 -14.6 M-4.05 -8.05 L-8.1 -16.1 M-6.6 -6.2 L-13.2 -12.4 M-8.95 -3.1 L-17.9 -6.2 M-8.95 -0.75 L-17.9 -1.5 M8.9 -0.2 L17.8 -0.4 M9.1 2.2 L18.2 4.4 M8.35 -2.2 L16.7 -4.4 M6.55 5.85 L13.1 11.7 M4.35 8.05 L8.7 16.1 M-1.85 9.5 L-3.7 19 M-7.5 7.5 L-15 15 M-4.75 6.95 L-9.5 13.9 M4.35 -6.95 L8.7 -13.9 M-7.75 4.25 L-15.5 8.5 " stroke="#b1b6d6" stroke-width="2.6" stroke-linecap="round"/>
<path d="M1.6 -7.6 L2.96 -14.06 M6.12 -5.84 L11.32 -10.8 M-3.24 -6.44 L-5.99 -11.91 M-5.28 -4.96 L-9.77 -9.18 M-7.16 -2.48 L-13.25 -4.59 M-7.16 -0.6 L-13.25 -1.11 M7.12 -0.16 L13.17 -0.3 M7.28 1.76 L13.47 3.26 M6.68 -1.76 L12.36 -3.26 M5.24 4.68 L9.69 8.66 M3.48 6.44 L6.44 11.91 M-1.48 7.6 L-2.74 14.06 M-6 6 L-11.1 11.1 M-3.8 5.56 L-7.03 10.29 M3.48 -5.56 L6.44 -10.29 M-6.2 3.4 L-11.47 6.29 " stroke="#b1b6d6" stroke-width="4.2" stroke-linecap="round"/>
<circle cx="-4.4" cy="-0.7" r="6.2" fill="#d2d2d2"/>
</g>
<text x="125.3" y="243" font-size="8.64" font-weight="bold" text-anchor="start" fill="#1a1a1a">Oleic acid / ω3/ω6</text>
<g transform="translate(160.7 263) scale(1.07 0.95) translate(-153 -118.7)">
<circle cx="151.5" cy="102" r="2.73" fill="#6f76a8"/>
<circle cx="154.8" cy="101.5" r="0.84" fill="#5a9a80"/>
<circle cx="158" cy="103.1" r="0.95" fill="#707070"/>
<circle cx="146.2" cy="106" r="2.73" fill="#d2d6e6"/>
<circle cx="161.2" cy="104.6" r="1.58" fill="#d2d6e6"/>
<circle cx="164" cy="107.3" r="1.37" fill="#f4cdd3"/>
<circle cx="155.9" cy="107.1" r="0.73" fill="#f4cdd3"/>
<circle cx="142" cy="108.8" r="0.95" fill="#6f76a8"/>
<circle cx="146.8" cy="110.6" r="0.73" fill="#e0875a"/>
<circle cx="152.3" cy="110.4" r="2.42" fill="#f4cdd3"/>
<circle cx="149.6" cy="111.9" r="0.73" fill="#6f76a8"/>
<circle cx="160.7" cy="109.3" r="0.95" fill="#6f76a8"/>
<circle cx="138.8" cy="113" r="1.68" fill="#6f76a8"/>
<circle cx="143.5" cy="113.3" r="0.73" fill="#8797a0"/>
<circle cx="157.4" cy="113.7" r="2.1" fill="#8797a0"/>
<circle cx="154.1" cy="115.2" r="0.95" fill="#e0875a"/>
<circle cx="167.2" cy="115.2" r="3.68" fill="#d2d6e6"/>
<circle cx="147.9" cy="117" r="1.05" fill="#f4cdd3"/>
<circle cx="151.9" cy="116.2" r="0.63" fill="#d2d6e6"/>
<circle cx="162.5" cy="118.1" r="1.68" fill="#6f76a8"/>
<circle cx="138.8" cy="118.8" r="0.95" fill="#b83a55"/>
<circle cx="143.5" cy="120.6" r="0.63" fill="#d2d6e6"/>
<circle cx="147.9" cy="121.7" r="2.1" fill="#6f76a8"/>
<circle cx="153.2" cy="123.9" r="3.68" fill="#f4cdd3"/>
<circle cx="139.1" cy="125.2" r="1.68" fill="#b83a55"/>
<circle cx="143.7" cy="127.1" r="2.42" fill="#e0875a"/>
<circle cx="157.7" cy="125" r="0.95" fill="#b83a55"/>
<circle cx="166.5" cy="125.9" r="1.58" fill="#b83a55"/>
<circle cx="147.9" cy="128.8" r="0.95" fill="#b83a55"/>
<circle cx="158.8" cy="128.8" r="0.95" fill="#f4cdd3"/>
<circle cx="153.7" cy="131.7" r="2.1" fill="#d2d6e6"/>
<circle cx="165.2" cy="131" r="2.1" fill="#6f76a8"/>
<circle cx="160.1" cy="133.9" r="2.1" fill="#8797a0"/>
<circle cx="145" cy="131.7" r="0.95" fill="#d2d6e6"/>
<circle cx="148.8" cy="135.4" r="1.05" fill="#8797a0"/>
<circle cx="142.8" cy="135.8" r="0.95" fill="#f4cdd3"/>
<circle cx="162.1" cy="125.6" r="0.63" fill="#d2d6e6"/>
</g>
<text x="207.6" y="175.6" font-size="10" font-weight="bold" text-anchor="start" fill="#1a1a1a">F</text>
<text x="261.7" y="180.2" font-size="9.1" font-weight="bold" text-anchor="middle" fill="#1a1a1a" textLength="17.4" lengthAdjust="spacingAndGlyphs">RPM</text>
<text x="223" y="190.9" font-size="7.1" fill="#222" textLength="76.2" lengthAdjust="spacingAndGlyphs">CD45<tspan font-size="5.3" dy="-3">+</tspan><tspan dy="3">F4/80</tspan><tspan font-size="5.3" dy="-3">hi</tspan><tspan dy="3">CD11b</tspan><tspan font-size="5.3" dy="-3">lo</tspan></text>
<text x="211.7" y="239.5" font-size="7.65" font-weight="bold" text-anchor="middle" fill="#222" transform="rotate(-90 211.7 239.5)">Percentage (%)</text>
<rect x="232.75" y="232.88" width="10.3" height="45.22" fill="#ffffff" stroke="#b2d8d3" stroke-width="1.6" rx="0"/>
<rect x="249.05" y="247.78" width="10.3" height="30.32" fill="#ffffff" stroke="#dccbc6" stroke-width="1.6" rx="0"/>
<rect x="265.05" y="263.74" width="10.3" height="14.36" fill="#ffffff" stroke="#efc4a4" stroke-width="1.6" rx="0"/>
<rect x="281.35" y="248.84" width="10.3" height="29.26" fill="#ffffff" stroke="#2b877d" stroke-width="1.6" rx="0"/>
<line x1="237.9" y1="251.5" x2="237.9" y2="211.6" stroke="#858585" stroke-width="1.5"/>
<line x1="235.6" y1="251.5" x2="240.2" y2="251.5" stroke="#858585" stroke-width="1.5"/>
<line x1="235.6" y1="211.6" x2="240.2" y2="211.6" stroke="#858585" stroke-width="1.5"/>
<line x1="254.2" y1="252.56" x2="254.2" y2="243.52" stroke="#858585" stroke-width="1.5"/>
<line x1="251.9" y1="252.56" x2="256.5" y2="252.56" stroke="#858585" stroke-width="1.5"/>
<line x1="251.9" y1="243.52" x2="256.5" y2="243.52" stroke="#858585" stroke-width="1.5"/>
<line x1="270.2" y1="270.65" x2="270.2" y2="256.82" stroke="#858585" stroke-width="1.5"/>
<line x1="267.9" y1="270.65" x2="272.5" y2="270.65" stroke="#858585" stroke-width="1.5"/>
<line x1="267.9" y1="256.82" x2="272.5" y2="256.82" stroke="#858585" stroke-width="1.5"/>
<line x1="286.5" y1="257.88" x2="286.5" y2="240.86" stroke="#858585" stroke-width="1.5"/>
<line x1="284.2" y1="257.88" x2="288.8" y2="257.88" stroke="#858585" stroke-width="1.5"/>
<line x1="284.2" y1="240.86" x2="288.8" y2="240.86" stroke="#858585" stroke-width="1.5"/>
<circle cx="233.9" cy="212.66" r="1.85" fill="#92c8c2"/>
<circle cx="241.9" cy="215.86" r="1.85" fill="#92c8c2"/>
<circle cx="233.9" cy="232.35" r="1.85" fill="#92c8c2"/>
<circle cx="241.9" cy="232.88" r="1.85" fill="#92c8c2"/>
<circle cx="237.9" cy="263.2" r="1.85" fill="#92c8c2"/>
<circle cx="249.7" cy="242.46" r="1.85" fill="#d2c2bd"/>
<circle cx="254.2" cy="243.52" r="1.85" fill="#d2c2bd"/>
<circle cx="257.2" cy="247.24" r="1.85" fill="#d2c2bd"/>
<circle cx="254.2" cy="250.44" r="1.85" fill="#d2c2bd"/>
<circle cx="250.2" cy="250.44" r="1.85" fill="#d2c2bd"/>
<circle cx="273.2" cy="254.16" r="1.85" fill="#e8ae86"/>
<circle cx="266.2" cy="256.82" r="1.85" fill="#e8ae86"/>
<circle cx="270.2" cy="264.8" r="1.85" fill="#e8ae86"/>
<circle cx="266.2" cy="270.65" r="1.85" fill="#e8ae86"/>
<circle cx="273.7" cy="270.65" r="1.85" fill="#e8ae86"/>
<circle cx="286.5" cy="239.26" r="1.85" fill="#22706a"/>
<circle cx="282" cy="245.12" r="1.85" fill="#22706a"/>
<circle cx="291" cy="245.12" r="1.85" fill="#22706a"/>
<circle cx="286.5" cy="250.44" r="1.85" fill="#22706a"/>
<circle cx="282" cy="257.88" r="1.85" fill="#22706a"/>
<circle cx="291" cy="252.56" r="1.85" fill="#22706a"/>
<circle cx="286.5" cy="265.86" r="1.85" fill="#22706a"/>
<line x1="226.3" y1="197.8" x2="226.3" y2="279" stroke="#9d9da1" stroke-width="1.8"/>
<line x1="225.4" y1="278.1" x2="299" y2="278.1" stroke="#9d9da1" stroke-width="1.8"/>
<line x1="223.5" y1="278.1" x2="226.3" y2="278.1" stroke="#9d9da1" stroke-width="1.2"/>
<text x="222.5" y="280.48" font-size="6.6" font-weight="normal" text-anchor="end" fill="#3a3a3a">25</text>
<line x1="223.5" y1="251.5" x2="226.3" y2="251.5" stroke="#9d9da1" stroke-width="1.2"/>
<text x="222.5" y="253.88" font-size="6.6" font-weight="normal" text-anchor="end" fill="#3a3a3a">30</text>
<line x1="223.5" y1="224.9" x2="226.3" y2="224.9" stroke="#9d9da1" stroke-width="1.2"/>
<text x="222.5" y="227.28" font-size="6.6" font-weight="normal" text-anchor="end" fill="#3a3a3a">35</text>
<line x1="223.5" y1="198.3" x2="226.3" y2="198.3" stroke="#9d9da1" stroke-width="1.2"/>
<text x="222.5" y="200.68" font-size="6.6" font-weight="normal" text-anchor="end" fill="#3a3a3a">40</text>
<line x1="237.9" y1="278.1" x2="237.9" y2="280.7" stroke="#9d9da1" stroke-width="1.5"/>
<line x1="254.2" y1="278.1" x2="254.2" y2="280.7" stroke="#9d9da1" stroke-width="1.5"/>
<line x1="270.2" y1="278.1" x2="270.2" y2="280.7" stroke="#9d9da1" stroke-width="1.5"/>
<line x1="286.5" y1="278.1" x2="286.5" y2="280.7" stroke="#9d9da1" stroke-width="1.5"/>
<line x1="255" y1="238.5" x2="268.5" y2="238.5" stroke="#6a6a6a" stroke-width="1.2"/>
<path d="M256.55 229.6 L256.55 233 M255.08 230.45 L258.02 232.15 M255.08 232.15 L258.02 230.45 M261.75 229.6 L261.75 233 M260.28 230.45 L263.22 232.15 M260.28 232.15 L263.22 230.45 M266.95 229.6 L266.95 233 M265.48 230.45 L268.42 232.15 M265.48 232.15 L268.42 230.45 " stroke="#111" stroke-width="1.3" stroke-linecap="round" fill="none"/>
<line x1="272" y1="225.9" x2="285.5" y2="225.9" stroke="#6a6a6a" stroke-width="1.2"/>
<path d="M276.15 216.5 L276.15 219.9 M274.68 217.35 L277.62 219.05 M274.68 219.05 L277.62 217.35 M281.35 216.5 L281.35 219.9 M279.88 217.35 L282.82 219.05 M279.88 219.05 L282.82 217.35 " stroke="#111" stroke-width="1.3" stroke-linecap="round" fill="none"/>
<text x="305.4" y="174.7" font-size="10" font-weight="bold" text-anchor="start" fill="#1a1a1a">G</text>
<text x="344.9" y="185.3" font-size="8.6" font-weight="bold" text-anchor="start" fill="#1a1a1a">Oleic acid</text>
<text x="309.6" y="241.9" font-size="7.6" font-weight="bold" text-anchor="middle" fill="#222" transform="rotate(-90 309.6 241.9)">Serum (μM)</text>
<rect x="335.15" y="236.25" width="10.3" height="43.85" fill="#ffffff" stroke="#b2d8d3" stroke-width="1.6" rx="0"/>
<rect x="351.75" y="254.81" width="10.3" height="25.29" fill="#ffffff" stroke="#dccbc6" stroke-width="1.6" rx="0"/>
<rect x="368.05" y="262.88" width="10.3" height="17.22" fill="#ffffff" stroke="#efc4a4" stroke-width="1.6" rx="0"/>
<rect x="384.55" y="248.9" width="10.3" height="31.2" fill="#ffffff" stroke="#2b877d" stroke-width="1.6" rx="0"/>
<line x1="340.3" y1="254.01" x2="340.3" y2="218.77" stroke="#858585" stroke-width="1.5"/>
<line x1="338" y1="254.01" x2="342.6" y2="254.01" stroke="#858585" stroke-width="1.5"/>
<line x1="338" y1="218.77" x2="342.6" y2="218.77" stroke="#858585" stroke-width="1.5"/>
<line x1="356.9" y1="261.27" x2="356.9" y2="248.9" stroke="#858585" stroke-width="1.5"/>
<line x1="354.6" y1="261.27" x2="359.2" y2="261.27" stroke="#858585" stroke-width="1.5"/>
<line x1="354.6" y1="248.9" x2="359.2" y2="248.9" stroke="#858585" stroke-width="1.5"/>
<line x1="373.2" y1="280.1" x2="373.2" y2="245.67" stroke="#858585" stroke-width="1.5"/>
<line x1="370.9" y1="280.1" x2="375.5" y2="280.1" stroke="#858585" stroke-width="1.5"/>
<line x1="370.9" y1="245.67" x2="375.5" y2="245.67" stroke="#858585" stroke-width="1.5"/>
<line x1="389.7" y1="263.96" x2="389.7" y2="233.83" stroke="#858585" stroke-width="1.5"/>
<line x1="387.4" y1="263.96" x2="392" y2="263.96" stroke="#858585" stroke-width="1.5"/>
<line x1="387.4" y1="233.83" x2="392" y2="233.83" stroke="#858585" stroke-width="1.5"/>
<circle cx="340.3" cy="211.24" r="1.85" fill="#92c8c2"/>
<circle cx="340.3" cy="230.87" r="1.85" fill="#92c8c2"/>
<circle cx="340.3" cy="236.25" r="1.85" fill="#92c8c2"/>
<circle cx="340.3" cy="247.28" r="1.85" fill="#92c8c2"/>
<circle cx="340.3" cy="252.12" r="1.85" fill="#92c8c2"/>
<circle cx="360.4" cy="248.2" r="1.85" fill="#d2c2bd"/>
<circle cx="356.9" cy="252.39" r="1.85" fill="#d2c2bd"/>
<circle cx="352.9" cy="256.16" r="1.85" fill="#d2c2bd"/>
<circle cx="356.9" cy="258.58" r="1.85" fill="#d2c2bd"/>
<circle cx="360.9" cy="258.58" r="1.85" fill="#d2c2bd"/>
<circle cx="373.2" cy="228.72" r="1.85" fill="#e8ae86"/>
<circle cx="369.2" cy="263.85" r="1.85" fill="#e8ae86"/>
<circle cx="377.2" cy="263.85" r="1.85" fill="#e8ae86"/>
<circle cx="373.2" cy="270.42" r="1.85" fill="#e8ae86"/>
<circle cx="369.2" cy="275.8" r="1.85" fill="#e8ae86"/>
<circle cx="377.2" cy="275.8" r="1.85" fill="#e8ae86"/>
<circle cx="389.7" cy="228.72" r="1.85" fill="#22706a"/>
<circle cx="389.7" cy="232.76" r="1.85" fill="#22706a"/>
<circle cx="389.7" cy="249.97" r="1.85" fill="#22706a"/>
<circle cx="385.7" cy="263.96" r="1.85" fill="#22706a"/>
<circle cx="393.7" cy="263.96" r="1.85" fill="#22706a"/>
<circle cx="389.7" cy="257.5" r="1.85" fill="#22706a"/>
<line x1="329" y1="198.9" x2="329" y2="281" stroke="#9d9da1" stroke-width="1.8"/>
<line x1="328.1" y1="280.1" x2="398.6" y2="280.1" stroke="#9d9da1" stroke-width="1.8"/>
<line x1="326.2" y1="280.1" x2="329" y2="280.1" stroke="#9d9da1" stroke-width="1.2"/>
<text x="325.8" y="282.48" font-size="6.6" font-weight="normal" text-anchor="end" fill="#3a3a3a">0</text>
<line x1="326.2" y1="253.2" x2="329" y2="253.2" stroke="#9d9da1" stroke-width="1.2"/>
<text x="325.8" y="255.58" font-size="6.6" font-weight="normal" text-anchor="end" fill="#3a3a3a">500</text>
<line x1="326.2" y1="226.3" x2="329" y2="226.3" stroke="#9d9da1" stroke-width="1.2"/>
<text x="325.8" y="228.68" font-size="6.6" font-weight="normal" text-anchor="end" fill="#3a3a3a">1000</text>
<line x1="326.2" y1="199.4" x2="329" y2="199.4" stroke="#9d9da1" stroke-width="1.2"/>
<text x="325.8" y="201.78" font-size="6.6" font-weight="normal" text-anchor="end" fill="#3a3a3a">1500</text>
<line x1="340.3" y1="280.1" x2="340.3" y2="282.7" stroke="#9d9da1" stroke-width="1.5"/>
<line x1="356.9" y1="280.1" x2="356.9" y2="282.7" stroke="#9d9da1" stroke-width="1.5"/>
<line x1="373.2" y1="280.1" x2="373.2" y2="282.7" stroke="#9d9da1" stroke-width="1.5"/>
<line x1="389.7" y1="280.1" x2="389.7" y2="282.7" stroke="#9d9da1" stroke-width="1.5"/>
<line x1="342.2" y1="206.6" x2="355.5" y2="206.6" stroke="#6a6a6a" stroke-width="1.2"/>
<path d="M348.85 197.1 L348.85 200.5 M347.38 197.95 L350.32 199.65 M347.38 199.65 L350.32 197.95 " stroke="#111" stroke-width="1.3" stroke-linecap="round" fill="none"/>
<line x1="374.5" y1="222.4" x2="389.4" y2="222.4" stroke="#6a6a6a" stroke-width="1.2"/>
<text x="381.95" y="215.7" font-size="6.8" font-weight="bold" text-anchor="middle" fill="#222">0.07</text>
<text x="441" y="182.8" font-size="8.6" font-weight="bold" text-anchor="start" fill="#1a1a1a">Oleic acid</text>
<text x="407" y="241.4" font-size="7.7" font-weight="bold" text-anchor="middle" fill="#222" transform="rotate(-90 407 241.4)">Eye (pmol/mg)</text>
<rect x="433.55" y="259.11" width="10.3" height="20.99" fill="#ffffff" stroke="#b2d8d3" stroke-width="1.6" rx="0"/>
<rect x="449.65" y="242.59" width="10.3" height="37.51" fill="#ffffff" stroke="#dccbc6" stroke-width="1.6" rx="0"/>
<rect x="465.55" y="259.38" width="10.3" height="20.72" fill="#ffffff" stroke="#efc4a4" stroke-width="1.6" rx="0"/>
<rect x="481.45" y="243.37" width="10.3" height="36.73" fill="#ffffff" stroke="#2b877d" stroke-width="1.6" rx="0"/>
<line x1="438.7" y1="267.77" x2="438.7" y2="253.87" stroke="#858585" stroke-width="1.5"/>
<line x1="436.4" y1="267.77" x2="441" y2="267.77" stroke="#858585" stroke-width="1.5"/>
<line x1="436.4" y1="253.87" x2="441" y2="253.87" stroke="#858585" stroke-width="1.5"/>
<line x1="454.8" y1="261.74" x2="454.8" y2="223.96" stroke="#858585" stroke-width="1.5"/>
<line x1="452.5" y1="261.74" x2="457.1" y2="261.74" stroke="#858585" stroke-width="1.5"/>
<line x1="452.5" y1="223.96" x2="457.1" y2="223.96" stroke="#858585" stroke-width="1.5"/>
<line x1="470.7" y1="275.38" x2="470.7" y2="242.59" stroke="#858585" stroke-width="1.5"/>
<line x1="468.4" y1="275.38" x2="473" y2="275.38" stroke="#858585" stroke-width="1.5"/>
<line x1="468.4" y1="242.59" x2="473" y2="242.59" stroke="#858585" stroke-width="1.5"/>
<line x1="486.6" y1="266.2" x2="486.6" y2="218.98" stroke="#858585" stroke-width="1.5"/>
<line x1="484.3" y1="266.2" x2="488.9" y2="266.2" stroke="#858585" stroke-width="1.5"/>
<line x1="484.3" y1="218.98" x2="488.9" y2="218.98" stroke="#858585" stroke-width="1.5"/>
<circle cx="434.7" cy="257.54" r="1.85" fill="#92c8c2"/>
<circle cx="438.7" cy="257.54" r="1.85" fill="#92c8c2"/>
<circle cx="442.7" cy="257.54" r="1.85" fill="#92c8c2"/>
<circle cx="435.7" cy="259.38" r="1.85" fill="#92c8c2"/>
<circle cx="441.7" cy="259.38" r="1.85" fill="#92c8c2"/>
<circle cx="438.7" cy="274.33" r="1.85" fill="#92c8c2"/>
<circle cx="454.8" cy="211.89" r="1.85" fill="#d2c2bd"/>
<circle cx="450.8" cy="242.59" r="1.85" fill="#d2c2bd"/>
<circle cx="458.8" cy="242.59" r="1.85" fill="#d2c2bd"/>
<circle cx="450.8" cy="258.59" r="1.85" fill="#d2c2bd"/>
<circle cx="458.8" cy="258.59" r="1.85" fill="#d2c2bd"/>
<circle cx="470.7" cy="229.21" r="1.85" fill="#e8ae86"/>
<circle cx="470.7" cy="257.28" r="1.85" fill="#e8ae86"/>
<circle cx="466.7" cy="260.43" r="1.85" fill="#e8ae86"/>
<circle cx="474.7" cy="259.9" r="1.85" fill="#e8ae86"/>
<circle cx="470.7" cy="276.69" r="1.85" fill="#e8ae86"/>
<circle cx="485.6" cy="212.42" r="1.85" fill="#22706a"/>
<circle cx="488.6" cy="211.37" r="1.85" fill="#22706a"/>
<circle cx="482.6" cy="259.64" r="1.85" fill="#22706a"/>
<circle cx="486.6" cy="257.8" r="1.85" fill="#22706a"/>
<circle cx="490.6" cy="257.8" r="1.85" fill="#22706a"/>
<circle cx="487.6" cy="259.64" r="1.85" fill="#22706a"/>
<line x1="426.5" y1="200.9" x2="426.5" y2="281" stroke="#9d9da1" stroke-width="1.8"/>
<line x1="425.6" y1="280.1" x2="497.5" y2="280.1" stroke="#9d9da1" stroke-width="1.8"/>
<line x1="423.7" y1="280.1" x2="426.5" y2="280.1" stroke="#9d9da1" stroke-width="1.2"/>
<text x="423.3" y="282.48" font-size="6.6" font-weight="normal" text-anchor="end" fill="#3a3a3a">0</text>
<line x1="423.7" y1="253.87" x2="426.5" y2="253.87" stroke="#9d9da1" stroke-width="1.2"/>
<text x="423.3" y="256.24" font-size="6.6" font-weight="normal" text-anchor="end" fill="#3a3a3a">1000</text>
<line x1="423.7" y1="227.63" x2="426.5" y2="227.63" stroke="#9d9da1" stroke-width="1.2"/>
<text x="423.3" y="230.01" font-size="6.6" font-weight="normal" text-anchor="end" fill="#3a3a3a">2000</text>
<line x1="423.7" y1="201.4" x2="426.5" y2="201.4" stroke="#9d9da1" stroke-width="1.2"/>
<text x="423.3" y="203.78" font-size="6.6" font-weight="normal" text-anchor="end" fill="#3a3a3a">3000</text>
<line x1="438.7" y1="280.1" x2="438.7" y2="282.7" stroke="#9d9da1" stroke-width="1.5"/>
<line x1="454.8" y1="280.1" x2="454.8" y2="282.7" stroke="#9d9da1" stroke-width="1.5"/>
<line x1="470.7" y1="280.1" x2="470.7" y2="282.7" stroke="#9d9da1" stroke-width="1.5"/>
<line x1="486.6" y1="280.1" x2="486.6" y2="282.7" stroke="#9d9da1" stroke-width="1.5"/>
<line x1="438" y1="207.6" x2="451.1" y2="207.6" stroke="#6a6a6a" stroke-width="1.2"/>
<path d="M444.55 198.5 L444.55 201.9 M443.08 199.35 L446.02 201.05 M443.08 201.05 L446.02 199.35 " stroke="#111" stroke-width="1.3" stroke-linecap="round" fill="none"/>
<line x1="456.5" y1="209.1" x2="469.5" y2="209.1" stroke="#6a6a6a" stroke-width="1.2"/>
<text x="463" y="203.7" font-size="6.8" font-weight="bold" text-anchor="middle" fill="#222">0.07</text>
<line x1="473.3" y1="201.4" x2="485.9" y2="201.4" stroke="#6a6a6a" stroke-width="1.2"/>
<text x="479.6" y="195.9" font-size="6.8" font-weight="bold" text-anchor="middle" fill="#222">0.10</text>
<circle cx="501.4" cy="179.1" r="2.2" fill="#9fd0ca"/>
<text x="505.9" y="181.5" font-size="6.6" font-weight="bold" text-anchor="start" fill="#222">IFA-CTL</text>
<circle cx="501.4" cy="190.7" r="2.2" fill="#d0c4c0"/>
<text x="505.9" y="193.1" font-size="6.6" font-weight="bold" text-anchor="start" fill="#222">CFA-CTL</text>
<circle cx="501.4" cy="202.7" r="2.2" fill="#dfa888"/>
<text x="505.9" y="205.1" font-size="6.6" font-weight="bold" text-anchor="start" fill="#222">EAU</text>
<circle cx="501.4" cy="214.3" r="2.2" fill="#2a7870"/>
<text x="505.9" y="216.7" font-size="6.6" font-weight="bold" text-anchor="start" fill="#222">EAU + HDCA</text>
<text x="544" y="178.2" font-size="10" font-weight="bold" text-anchor="start" fill="#1a1a1a">H</text>
<text x="604.8" y="185.1" font-size="8.6" font-weight="bold" text-anchor="middle" fill="#111">ω3/ω6</text>
<rect x="586" y="193.6" width="18.6" height="16.7" fill="#9cc3c0" stroke="none" stroke-width="1" rx="0"/>
<rect x="604.6" y="193.6" width="18.2" height="16.7" fill="#b5d3d1" stroke="none" stroke-width="1" rx="0"/>
<rect x="586" y="210.2" width="18.6" height="16.7" fill="#dae8e7" stroke="none" stroke-width="1" rx="0"/>
<rect x="604.6" y="210.2" width="18.2" height="16.7" fill="#a9cbc8" stroke="none" stroke-width="1" rx="0"/>
<rect x="586" y="226.8" width="18.6" height="16.7" fill="#bfd9d6" stroke="none" stroke-width="1" rx="0"/>
<rect x="604.6" y="226.8" width="18.2" height="16.7" fill="#d1e4e2" stroke="none" stroke-width="1" rx="0"/>
<rect x="586" y="243.4" width="18.6" height="16.7" fill="#dab69e" stroke="none" stroke-width="1" rx="0"/>
<rect x="604.6" y="243.4" width="18.2" height="16.7" fill="#d0a183" stroke="none" stroke-width="1" rx="0"/>
<rect x="585.6" y="193.6" width="37.6" height="66.4" fill="none" stroke="#9a9a9a" stroke-width="1.6" rx="0"/>
<text x="613.9" y="222.1" font-size="7" font-weight="normal" text-anchor="middle" fill="#ffffff">0.08</text>
<text x="613.9" y="254.4" font-size="7" font-weight="normal" text-anchor="middle" fill="#ffffff">0.06</text>
<text x="581.1" y="204.2" font-size="6.7" font-weight="bold" text-anchor="end" fill="#222">IFA-CTL</text>
<line x1="581.6" y1="201.8" x2="585" y2="201.8" stroke="#888" stroke-width="1"/>
<text x="581.1" y="220.6" font-size="6.7" font-weight="bold" text-anchor="end" fill="#222">CFA-CTL</text>
<line x1="581.6" y1="218.2" x2="585" y2="218.2" stroke="#888" stroke-width="1"/>
<text x="581.1" y="237.4" font-size="6.7" font-weight="bold" text-anchor="end" fill="#222">EAU</text>
<line x1="581.6" y1="235" x2="585" y2="235" stroke="#888" stroke-width="1"/>
<text x="581.1" y="253.9" font-size="6.7" font-weight="bold" text-anchor="end" fill="#222">EAU+HDCA</text>
<line x1="581.6" y1="251.5" x2="585" y2="251.5" stroke="#888" stroke-width="1"/>
<linearGradient id="gH" x1="0" y1="0" x2="0" y2="1"><stop offset="0" stop-color="#d4a283"/><stop offset="0.63" stop-color="#ffffff"/><stop offset="1" stop-color="#8fbcb8"/></linearGradient>
<rect x="629.6" y="200" width="8.1" height="62.5" fill="url(#gH)" stroke="none" stroke-width="1" rx="0"/>
<text x="641.2" y="203.4" font-size="6.8" font-weight="bold" text-anchor="start" fill="#222">1.5</text>
<text x="641.2" y="216.5" font-size="6.8" font-weight="bold" text-anchor="start" fill="#222">1.0</text>
<text x="641.2" y="229.4" font-size="6.8" font-weight="bold" text-anchor="start" fill="#222">0.5</text>
<text x="641.2" y="242" font-size="6.8" font-weight="bold" text-anchor="start" fill="#222">0</text>
<text x="641.2" y="255.2" font-size="6.8" font-weight="bold" text-anchor="start" fill="#222">-0.5</text>
<text x="626.1" y="194.8" font-size="6.7" font-weight="bold" text-anchor="start" fill="#222">Z-score (ratio)</text>
<line x1="594.8" y1="260" x2="594.8" y2="263.2" stroke="#999" stroke-width="1.4"/>
<line x1="613.5" y1="260" x2="613.5" y2="263.2" stroke="#999" stroke-width="1.4"/>
<text x="598" y="270.4" font-size="8" font-weight="bold" text-anchor="end" fill="#111" transform="rotate(-44 598 270.4)">Serum</text>
<text x="616.8" y="270.4" font-size="8" font-weight="bold" text-anchor="end" fill="#111" transform="rotate(-44 616.8 270.4)">Ocular</text>
<rect x="3.2" y="301.8" width="288.8" height="168.7" fill="none" stroke="#9a9a9c" stroke-width="1.6" rx="14"/>
<text x="22.1" y="317.1" font-size="10.02" font-weight="bold" text-anchor="start" fill="#26268f">Cell experiment 3</text>
<text x="12.6" y="325.2" font-size="9" font-weight="bold" text-anchor="start" fill="#1a1a1a">I</text>
<g fill="#c8c8c8">
<ellipse cx="25.2" cy="385.3" rx="14" ry="10.2"/>
<circle cx="38.14" cy="387.17" r="3.9" fill="#c8c8c8"/>
<circle cx="35.72" cy="390.98" r="4.35" fill="#c8c8c8"/>
<circle cx="31.22" cy="393.67" r="3.3" fill="#c8c8c8"/>
<circle cx="25.52" cy="394.7" r="4.25" fill="#c8c8c8"/>
<circle cx="19.76" cy="393.87" r="4.03" fill="#c8c8c8"/>
<circle cx="15.08" cy="391.34" r="3.37" fill="#c8c8c8"/>
<circle cx="12.41" cy="387.61" r="4.47" fill="#c8c8c8"/>
<circle cx="12.26" cy="383.43" r="3.67" fill="#c8c8c8"/>
<circle cx="14.68" cy="379.62" r="3.64" fill="#c8c8c8"/>
<circle cx="19.18" cy="376.93" r="4.48" fill="#c8c8c8"/>
<circle cx="24.88" cy="375.9" r="3.39" fill="#c8c8c8"/>
<circle cx="30.64" cy="376.73" r="4" fill="#c8c8c8"/>
<circle cx="35.32" cy="379.26" r="4.27" fill="#c8c8c8"/>
<circle cx="37.99" cy="382.99" r="3.3" fill="#c8c8c8"/>
</g>
<ellipse cx="25.4" cy="387.6" rx="7.2" ry="5.2" fill="#dddddd"/>
<text x="7.7" y="408.7" font-size="7.57" font-weight="bold" text-anchor="start" fill="#1a1a1a">RAW264.7</text>
<linearGradient id="ga9" gradientUnits="userSpaceOnUse" x1="46.3" y1="0" x2="107.5" y2="0"><stop offset="0" stop-color="#f7f7f7"/><stop offset="0.5" stop-color="#cfcfcf"/><stop offset="1" stop-color="#8e8e8e"/></linearGradient>
<path d="M46.3 361.3 L102.1 361.3 L102.1 358.9 L107.5 364.1 L102.1 369.3 L102.1 366.9 L46.3 366.9 Z" fill="url(#ga9)"/>
<linearGradient id="ga10" gradientUnits="userSpaceOnUse" x1="46.3" y1="0" x2="107.5" y2="0"><stop offset="0" stop-color="#f7f7f7"/><stop offset="0.5" stop-color="#cfcfcf"/><stop offset="1" stop-color="#8e8e8e"/></linearGradient>
<path d="M46.3 406 L102.1 406 L102.1 403.6 L107.5 408.8 L102.1 414 L102.1 411.6 L46.3 411.6 Z" fill="url(#ga10)"/>
<text x="76.5" y="360.8" font-size="8" font-weight="bold" text-anchor="middle" fill="#1a1a1a">LPS</text>
<text x="73.5" y="388" font-size="9" font-weight="bold" text-anchor="start" fill="#c0282d">24h</text>
<text x="54" y="405.1" font-size="7.65" font-weight="bold" text-anchor="start" fill="#1a1a1a">LPS + HDCA</text>
<text x="54.8" y="418.8" font-size="7.9" font-weight="normal" text-anchor="start" fill="#222" textLength="42.6" lengthAdjust="spacingAndGlyphs">(5/10/20μM)</text>
<g transform="translate(125.5 364.8) scale(0.82)">
<circle r="12.6" fill="#f4d2d5"/>
<path d="M2 -9.5 L4 -19 M7.65 -7.3 L15.3 -14.6 M-4.05 -8.05 L-8.1 -16.1 M-6.6 -6.2 L-13.2 -12.4 M-8.95 -3.1 L-17.9 -6.2 M-8.95 -0.75 L-17.9 -1.5 M8.9 -0.2 L17.8 -0.4 M9.1 2.2 L18.2 4.4 M8.35 -2.2 L16.7 -4.4 M6.55 5.85 L13.1 11.7 M4.35 8.05 L8.7 16.1 M-1.85 9.5 L-3.7 19 M-7.5 7.5 L-15 15 M-4.75 6.95 L-9.5 13.9 M4.35 -6.95 L8.7 -13.9 M-7.75 4.25 L-15.5 8.5 " stroke="#f4d2d5" stroke-width="2.6" stroke-linecap="round"/>
<path d="M1.6 -7.6 L2.96 -14.06 M6.12 -5.84 L11.32 -10.8 M-3.24 -6.44 L-5.99 -11.91 M-5.28 -4.96 L-9.77 -9.18 M-7.16 -2.48 L-13.25 -4.59 M-7.16 -0.6 L-13.25 -1.11 M7.12 -0.16 L13.17 -0.3 M7.28 1.76 L13.47 3.26 M6.68 -1.76 L12.36 -3.26 M5.24 4.68 L9.69 8.66 M3.48 6.44 L6.44 11.91 M-1.48 7.6 L-2.74 14.06 M-6 6 L-11.1 11.1 M-3.8 5.56 L-7.03 10.29 M3.48 -5.56 L6.44 -10.29 M-6.2 3.4 L-11.47 6.29 " stroke="#f4d2d5" stroke-width="4.2" stroke-linecap="round"/>
<ellipse cx="-1" cy="0.6" rx="7.2" ry="5.6" fill="#bdbdbd"/>
</g>
<g transform="translate(127.1 407.3) scale(0.82)">
<circle r="12.6" fill="#b4b9db"/>
<path d="M2 -9.5 L4 -19 M7.65 -7.3 L15.3 -14.6 M-4.05 -8.05 L-8.1 -16.1 M-6.6 -6.2 L-13.2 -12.4 M-8.95 -3.1 L-17.9 -6.2 M-8.95 -0.75 L-17.9 -1.5 M8.9 -0.2 L17.8 -0.4 M9.1 2.2 L18.2 4.4 M8.35 -2.2 L16.7 -4.4 M6.55 5.85 L13.1 11.7 M4.35 8.05 L8.7 16.1 M-1.85 9.5 L-3.7 19 M-7.5 7.5 L-15 15 M-4.75 6.95 L-9.5 13.9 M4.35 -6.95 L8.7 -13.9 M-7.75 4.25 L-15.5 8.5 " stroke="#b4b9db" stroke-width="2.6" stroke-linecap="round"/>
<path d="M1.6 -7.6 L2.96 -14.06 M6.12 -5.84 L11.32 -10.8 M-3.24 -6.44 L-5.99 -11.91 M-5.28 -4.96 L-9.77 -9.18 M-7.16 -2.48 L-13.25 -4.59 M-7.16 -0.6 L-13.25 -1.11 M7.12 -0.16 L13.17 -0.3 M7.28 1.76 L13.47 3.26 M6.68 -1.76 L12.36 -3.26 M5.24 4.68 L9.69 8.66 M3.48 6.44 L6.44 11.91 M-1.48 7.6 L-2.74 14.06 M-6 6 L-11.1 11.1 M-3.8 5.56 L-7.03 10.29 M3.48 -5.56 L6.44 -10.29 M-6.2 3.4 L-11.47 6.29 " stroke="#b4b9db" stroke-width="4.2" stroke-linecap="round"/>
<ellipse cx="-1" cy="0.4" rx="7.2" ry="5.6" fill="#bdbdbd"/>
</g>
<text x="143.9" y="324.7" font-size="9.5" font-weight="bold" text-anchor="start" fill="#1a1a1a">J</text>
<text x="197" y="321.6" font-size="9" font-weight="bold" text-anchor="start" fill="#1a1a1a">Oleic acid</text>
<text x="191.7" y="335.6" font-size="7" font-weight="bold" text-anchor="middle" fill="#1a1a1a">Cellular</text>
<text x="253.1" y="335.6" font-size="7" font-weight="bold" text-anchor="middle" fill="#1a1a1a">Media</text>
<line x1="171.75" y1="377.2" x2="171.75" y2="376" stroke="#888" stroke-width="1"/>
<line x1="169.45" y1="376" x2="174.05" y2="376" stroke="#888" stroke-width="1"/>
<rect x="167.1" y="377.2" width="9.3" height="47.7" fill="#eda3a6" stroke="none" stroke-width="1" rx="0"/>
<line x1="184.95" y1="373.3" x2="184.95" y2="369.6" stroke="#888" stroke-width="1"/>
<line x1="182.65" y1="369.6" x2="187.25" y2="369.6" stroke="#888" stroke-width="1"/>
<rect x="180.5" y="373.3" width="8.9" height="51.6" fill="#d6d9ea" stroke="none" stroke-width="1" rx="0"/>
<line x1="198.35" y1="368.1" x2="198.35" y2="363.8" stroke="#888" stroke-width="1"/>
<line x1="196.05" y1="363.8" x2="200.65" y2="363.8" stroke="#888" stroke-width="1"/>
<rect x="193.8" y="368.1" width="9.1" height="56.8" fill="#9fa5cc" stroke="none" stroke-width="1" rx="0"/>
<line x1="211.55" y1="364.6" x2="211.55" y2="363.1" stroke="#888" stroke-width="1"/>
<line x1="209.25" y1="363.1" x2="213.85" y2="363.1" stroke="#888" stroke-width="1"/>
<rect x="207.2" y="364.6" width="8.7" height="60.3" fill="#505b8d" stroke="none" stroke-width="1" rx="0"/>
<line x1="233.45" y1="406.5" x2="233.45" y2="405.5" stroke="#888" stroke-width="1"/>
<line x1="231.15" y1="405.5" x2="235.75" y2="405.5" stroke="#888" stroke-width="1"/>
<rect x="229.1" y="406.5" width="8.7" height="18.4" fill="#eda3a6" stroke="none" stroke-width="1" rx="0"/>
<line x1="246.45" y1="397.8" x2="246.45" y2="394.6" stroke="#888" stroke-width="1"/>
<line x1="244.15" y1="394.6" x2="248.75" y2="394.6" stroke="#888" stroke-width="1"/>
<rect x="242.1" y="397.8" width="8.7" height="27.1" fill="#d6d9ea" stroke="none" stroke-width="1" rx="0"/>
<line x1="259.65" y1="398.9" x2="259.65" y2="396.6" stroke="#888" stroke-width="1"/>
<line x1="257.35" y1="396.6" x2="261.95" y2="396.6" stroke="#888" stroke-width="1"/>
<rect x="255.1" y="398.9" width="9.1" height="26" fill="#9fa5cc" stroke="none" stroke-width="1" rx="0"/>
<line x1="273.05" y1="392" x2="273.05" y2="391" stroke="#888" stroke-width="1"/>
<line x1="270.75" y1="391" x2="275.35" y2="391" stroke="#888" stroke-width="1"/>
<rect x="268.5" y="392" width="9.1" height="32.9" fill="#505b8d" stroke="none" stroke-width="1" rx="0"/>
<rect x="164" y="385.9" width="54" height="4.3" fill="#ffffff" stroke="none" stroke-width="1" rx="0"/>
<line x1="162.8" y1="359.4" x2="162.8" y2="385.4" stroke="#8a8a8a" stroke-width="1.3"/>
<line x1="162.8" y1="390.2" x2="162.8" y2="425.5" stroke="#8a8a8a" stroke-width="1.3"/>
<line x1="162.2" y1="424.9" x2="217" y2="424.9" stroke="#8a8a8a" stroke-width="1.3"/>
<line x1="226.3" y1="424.9" x2="282.6" y2="424.9" stroke="#8a8a8a" stroke-width="1.3"/>
<line x1="191.5" y1="424.9" x2="191.5" y2="427" stroke="#8a8a8a" stroke-width="1"/>
<line x1="253" y1="424.9" x2="253" y2="427" stroke="#8a8a8a" stroke-width="1"/>
<text x="158.3" y="362.7" font-size="7" font-weight="normal" text-anchor="end" fill="#333">65</text>
<line x1="160.3" y1="360.2" x2="162.8" y2="360.2" stroke="#8a8a8a" stroke-width="1"/>
<text x="158.3" y="371.2" font-size="7" font-weight="normal" text-anchor="end" fill="#333">45</text>
<line x1="160.3" y1="368.7" x2="162.8" y2="368.7" stroke="#8a8a8a" stroke-width="1"/>
<text x="158.3" y="379.4" font-size="7" font-weight="normal" text-anchor="end" fill="#333">25</text>
<line x1="160.3" y1="376.9" x2="162.8" y2="376.9" stroke="#8a8a8a" stroke-width="1"/>
<text x="158.3" y="386.6" font-size="7" font-weight="normal" text-anchor="end" fill="#333">5</text>
<line x1="160.3" y1="384.1" x2="162.8" y2="384.1" stroke="#8a8a8a" stroke-width="1"/>
<text x="158.3" y="392.8" font-size="7" font-weight="normal" text-anchor="end" fill="#333">2</text>
<line x1="160.3" y1="390.3" x2="162.8" y2="390.3" stroke="#8a8a8a" stroke-width="1"/>
<text x="158.3" y="410.3" font-size="7" font-weight="normal" text-anchor="end" fill="#333">1</text>
<line x1="160.3" y1="407.8" x2="162.8" y2="407.8" stroke="#8a8a8a" stroke-width="1"/>
<text x="158.3" y="427.1" font-size="7" font-weight="normal" text-anchor="end" fill="#333">0</text>
<line x1="160.3" y1="424.6" x2="162.8" y2="424.6" stroke="#8a8a8a" stroke-width="1"/>
<line x1="159.5" y1="385.2" x2="165" y2="383.8" stroke="#555" stroke-width="0.8"/>
<line x1="159.5" y1="390.8" x2="165" y2="389.4" stroke="#555" stroke-width="0.8"/>
<text x="150" y="390.3" font-size="8" font-weight="bold" text-anchor="middle" fill="#111" transform="rotate(-90 150 390.3)">μM</text>
<line x1="172.5" y1="350.1" x2="211.1" y2="350.1" stroke="#333" stroke-width="1.2"/>
<path d="M186.6 341.3 L186.6 344.7 M185.13 342.15 L188.07 343.85 M185.13 343.85 L188.07 342.15 M191.8 341.3 L191.8 344.7 M190.33 342.15 L193.27 343.85 M190.33 343.85 L193.27 342.15 M197 341.3 L197 344.7 M195.53 342.15 L198.47 343.85 M195.53 343.85 L198.47 342.15 " stroke="#111" stroke-width="1.3" stroke-linecap="round" fill="none"/>
<line x1="172.5" y1="362.5" x2="195.5" y2="362.5" stroke="#777" stroke-width="1.4"/>
<path d="M195.5 362.5 L197.5 364.6" stroke="#777" stroke-width="1.2" fill="none"/>
<path d="M185.1 352.7 L185.1 356.1 M183.63 353.55 L186.57 355.25 M183.63 355.25 L186.57 353.55 " stroke="#111" stroke-width="1.3" stroke-linecap="round" fill="none"/>
<line x1="233.8" y1="372.9" x2="272.9" y2="372.9" stroke="#333" stroke-width="1.2"/>
<path d="M248.15 362.9 L248.15 366.3 M246.68 363.75 L249.62 365.45 M246.68 365.45 L249.62 363.75 M253.35 362.9 L253.35 366.3 M251.88 363.75 L254.82 365.45 M251.88 365.45 L254.82 363.75 M258.55 362.9 L258.55 366.3 M257.08 363.75 L260.02 365.45 M257.08 365.45 L260.02 363.75 " stroke="#111" stroke-width="1.3" stroke-linecap="round" fill="none"/>
<line x1="233.8" y1="388" x2="259.4" y2="388" stroke="#333" stroke-width="1.2"/>
<path d="M244 378.1 L244 381.5 M242.53 378.95 L245.47 380.65 M242.53 380.65 L245.47 378.95 M249.2 378.1 L249.2 381.5 M247.73 378.95 L250.67 380.65 M247.73 380.65 L250.67 378.95 " stroke="#111" stroke-width="1.3" stroke-linecap="round" fill="none"/>
<linearGradient id="gJ" x1="0" y1="0" x2="1" y2="0"><stop offset="0" stop-color="#c3c7e4"/><stop offset="0.3" stop-color="#faf6f7"/><stop offset="1" stop-color="#eb97a1"/></linearGradient>
<path d="M158.4 432.6 L217 428.2 L217 437.9 L158.4 433.8 Z" fill="url(#gJ)"/>
<path d="M223 432.6 L281.1 428.2 L281.1 437.9 L223 433.8 Z" fill="url(#gJ)"/>
<text x="149.8" y="446.2" font-size="6.88" font-weight="bold" text-anchor="start" fill="#1a1a1a">HDCA Concentration</text>
<text x="230.6" y="447" font-size="7.2" font-weight="bold" text-anchor="start" fill="#1a1a1a">Concentration</text>
<rect x="296.5" y="301.8" width="386.5" height="167.4" fill="none" stroke="#9a9a9c" stroke-width="1.6" rx="14"/>
<text x="311.3" y="314.5" font-size="10.03" font-weight="bold" text-anchor="start" fill="#ad1f23">Greedy Bayesian Network</text>
<text x="303.9" y="326.2" font-size="10" font-weight="bold" text-anchor="start" fill="#1a1a1a">K</text>
<text x="385.5" y="335.5" font-size="8.75" font-weight="bold" text-anchor="start" fill="#1a1a1a">Deal package (R)</text>
<text x="311.8" y="350" font-size="8.9" font-weight="bold" text-anchor="start" fill="#1a1a1a">AU (Yes/No)</text>
<text x="311.8" y="375.5" font-size="8.9" font-weight="bold" text-anchor="start" fill="#1a1a1a">HDCA treatment (Y/N/CTL)</text>
<text x="311.8" y="401.3" font-size="8.9" font-weight="bold" text-anchor="start" fill="#1a1a1a">Oleic acid (Serum)</text>
<text x="311.8" y="426.8" font-size="8.9" font-weight="bold" text-anchor="start" fill="#1a1a1a">Ratio(ω3/ω6)</text>
<text x="311.8" y="452.1" font-size="8.9" font-weight="bold" text-anchor="start" fill="#1a1a1a">Cytokines</text>
<linearGradient id="gK" x1="0" y1="0" x2="0" y2="1"><stop offset="0" stop-color="#b7bbd8"/><stop offset="0.5" stop-color="#fbf8fa"/><stop offset="1" stop-color="#f0b2b7"/></linearGradient>
<rect x="425.5" y="342.1" width="8.1" height="113.7" fill="url(#gK)" stroke="none" stroke-width="1" rx="0"/>
<path d="M406 396.6 L438.2 396.6 L438.2 393 L454.6 399.5 L438.2 406 L438.2 402 L406 402 Z" fill="#9d9da1"/>
<text x="394.3" y="442.1" font-size="8.47" font-weight="bold" text-anchor="middle" fill="#c0282d">Conditional</text>
<text x="394.3" y="452.1" font-size="8.79" font-weight="bold" text-anchor="middle" fill="#c0282d">dependencies</text>
<text x="442.6" y="452.1" font-size="8.78" font-weight="bold" text-anchor="start" fill="#1a1a1a">Score:-1585.0</text>
<text x="442.6" y="461.4" font-size="8.84" font-weight="bold" text-anchor="start" fill="#1a1a1a">Relscore:0.019</text>
<line x1="615.2" y1="327.5" x2="521.58" y2="350.51" stroke="#d9d9d9" stroke-width="2.9"/>
<path d="M514.3 352.3 L521.14 346.6 L523 354.18 Z" fill="#d9d9d9"/>
<line x1="578.2" y1="330.6" x2="601.96" y2="430.2" stroke="#d9d9d9" stroke-width="2.9"/>
<path d="M603.7 437.5 L598.05 430.62 L605.64 428.81 Z" fill="#d9d9d9"/>
<line x1="583" y1="330.5" x2="625.35" y2="352.54" stroke="#d9d9d9" stroke-width="2.9"/>
<path d="M632 356 L623.1 355.77 L626.7 348.85 Z" fill="#d9d9d9"/>
<line x1="622" y1="339" x2="631.05" y2="345.94" stroke="#d9d9d9" stroke-width="2.9"/>
<path d="M637 350.5 L628.28 348.73 L633.02 342.54 Z" fill="#d9d9d9"/>
<line x1="625.4" y1="339" x2="628.92" y2="409.01" stroke="#d9d9d9" stroke-width="2.9"/>
<path d="M629.3 416.5 L625 408.71 L632.79 408.31 Z" fill="#d9d9d9"/>
<line x1="597.3" y1="448.6" x2="580.85" y2="451.99" stroke="#d9d9d9" stroke-width="2.9"/>
<path d="M573.5 453.5 L580.55 448.07 L582.12 455.71 Z" fill="#d9d9d9"/>
<line x1="562.8" y1="441.5" x2="610.9" y2="335.33" stroke="#d9d9d9" stroke-width="2.9"/>
<path d="M614 328.5 L614.25 337.4 L607.15 334.18 Z" fill="#d9d9d9"/>
<line x1="628" y1="368" x2="578.48" y2="434.49" stroke="#d9d9d9" stroke-width="2.9"/>
<path d="M574 440.5 L575.65 431.75 L581.91 436.41 Z" fill="#d9d9d9"/>
<line x1="628" y1="371.4" x2="540.64" y2="423.65" stroke="#d9d9d9" stroke-width="2.9"/>
<path d="M534.2 427.5 L539.06 420.05 L543.07 426.74 Z" fill="#d9d9d9"/>
<line x1="556" y1="323.3" x2="553.98" y2="323.8" stroke="#e9a3ab" stroke-width="2.9"/>
<path d="M546.7 325.6 L553.53 319.89 L555.4 327.47 Z" fill="#e9a3ab"/>
<line x1="530.9" y1="337" x2="518.55" y2="346.06" stroke="#e9a3ab" stroke-width="2.9"/>
<path d="M512.5 350.5 L516.64 342.62 L521.26 348.91 Z" fill="#e9a3ab"/>
<line x1="504.8" y1="368.4" x2="505.75" y2="376.75" stroke="#e9a3ab" stroke-width="2.9"/>
<path d="M506.6 384.2 L501.82 376.69 L509.57 375.81 Z" fill="#e9a3ab"/>
<line x1="575.6" y1="330.6" x2="534.05" y2="420.39" stroke="#e9a3ab" stroke-width="2.9"/>
<path d="M530.9 427.2 L530.72 418.3 L537.8 421.58 Z" fill="#e9a3ab"/>
<line x1="631" y1="362.2" x2="520.98" y2="354.71" stroke="#e9a3ab" stroke-width="2.9"/>
<path d="M513.5 354.2 L521.75 350.85 L521.22 358.63 Z" fill="#e9a3ab"/>
<line x1="633" y1="394.5" x2="521.95" y2="359.27" stroke="#e9a3ab" stroke-width="2.9"/>
<path d="M514.8 357 L523.6 355.7 L521.25 363.14 Z" fill="#e9a3ab"/>
<line x1="523.8" y1="399.6" x2="623.89" y2="366.18" stroke="#e9a3ab" stroke-width="2.9"/>
<path d="M631 363.8 L624.65 370.03 L622.18 362.63 Z" fill="#e9a3ab"/>
<line x1="633" y1="394.8" x2="531.29" y2="401.04" stroke="#e9a3ab" stroke-width="2.9"/>
<path d="M523.8 401.5 L531.55 397.12 L532.02 404.9 Z" fill="#e9a3ab"/>
<line x1="505.3" y1="368.9" x2="615.22" y2="420.8" stroke="#e9a3ab" stroke-width="2.9"/>
<path d="M622 424 L613.1 424.11 L616.43 417.06 Z" fill="#e9a3ab"/>
<line x1="509.5" y1="372" x2="594.64" y2="431.22" stroke="#e9a3ab" stroke-width="2.9"/>
<path d="M600.8 435.5 L592.01 434.13 L596.46 427.73 Z" fill="#e9a3ab"/>
<path d="M556.3 321 L561.5 311 L592.7 311 L597.9 321 L592.7 331 L561.5 331 Z" fill="#f1c3c9"/>
<text x="577.6" y="324" font-size="8" font-weight="bold" text-anchor="middle" fill="#222">EAU</text>
<rect x="516.3" y="319.7" width="29.5" height="16.6" fill="#d5d8e9" stroke="none" stroke-width="1" rx="0"/>
<text x="531" y="330.8" font-size="7.6" font-weight="bold" text-anchor="middle" fill="#222">HDCA</text>
<path d="M505 340.8 L520.8 368.4 L489.2 368.4 Z" fill="#d7e7f5"/>
<text x="505" y="364.8" font-size="7.8" font-weight="bold" text-anchor="middle" fill="#222">RPM</text>
<circle cx="505.8" cy="400" r="17.1" fill="#f2c4c9"/>
<text x="505.8" y="402.5" font-size="7" font-weight="bold" text-anchor="middle" fill="#222">Oleic acid</text>
<circle cx="520.8" cy="439.5" r="14.6" fill="#f2c4c9"/>
<text x="520.8" y="442.6" font-size="7.9" font-weight="bold" text-anchor="middle" fill="#1a1a1a">ω3/ω6</text>
<rect x="615.5" y="317.1" width="19.8" height="21.9" fill="#f6e6d6" stroke="none" stroke-width="1" rx="0"/>
<text x="625.9" y="330.45" font-size="6.6" font-weight="bold" text-anchor="middle" fill="#222">TNF-α</text>
<rect x="632.1" y="351.3" width="20.5" height="22.4" fill="#f6e6d6" stroke="none" stroke-width="1" rx="0"/>
<text x="642.85" y="364.9" font-size="6.6" font-weight="bold" text-anchor="middle" fill="#222">IL-17A</text>
<rect x="633.4" y="382.9" width="20.3" height="22.4" fill="#f6e6d6" stroke="none" stroke-width="1" rx="0"/>
<text x="644.05" y="396.5" font-size="6.6" font-weight="bold" text-anchor="middle" fill="#222">IL-12</text>
<rect x="624.7" y="417.9" width="20" height="21.6" fill="#f6e6d6" stroke="none" stroke-width="1" rx="0"/>
<text x="635.2" y="431.1" font-size="6.6" font-weight="bold" text-anchor="middle" fill="#222">IL-10</text>
<rect x="597.4" y="438.2" width="19.4" height="21.8" fill="#f6e6d6" stroke="none" stroke-width="1" rx="0"/>
<text x="607.6" y="451.5" font-size="6.6" font-weight="bold" text-anchor="middle" fill="#222">IL-6</text>
<rect x="553.2" y="442.1" width="19.7" height="21.6" fill="#f6e6d6" stroke="none" stroke-width="1" rx="0"/>
<text x="563.55" y="455.3" font-size="6.6" font-weight="bold" text-anchor="middle" fill="#222">IL-1β</text>
<rect x="2.3" y="474.9" width="681" height="168.9" fill="none" stroke="#9a9a9c" stroke-width="1.6" rx="16"/>
<text x="22.4" y="489.5" font-size="10.08" font-weight="bold" text-anchor="start" fill="#ad1f23">Animal experimen 8</text>
<text x="15.5" y="499.5" font-size="10" font-weight="bold" text-anchor="start" fill="#1a1a1a">L</text>
<g transform="translate(59.2 538.6) scale(1.19 1)" fill="#e2e2e2" stroke="#7b7b7b" stroke-width="1.45" stroke-linecap="round" stroke-linejoin="round">
<path d="M0 43.6 C-4.2 43.6 -7.8 38 -10.9 29.6 A7.1 7.1 0 0 1 -14.7 17.6 C-14.5 6.5 -8.3 0 0 0 C8.3 0 14.5 6.5 14.7 17.6 A7.1 7.1 0 0 1 10.9 29.6 C7.8 38 4.2 43.6 0 43.6 Z"/>
<path fill="none" d="M-14.4 18 A7.1 7.1 0 0 1 -2.8 21.8 M14.4 18 A7.1 7.1 0 0 0 2.8 21.8 M-10.9 29.6 L-8.2 30.2 M10.9 29.6 L8.2 30.2"/>
<path fill="none" d="M0 0 C0 -3 1.5 -4.2 3.8 -5.4 C6 -6.6 7 -8 7.2 -10"/>
</g>
<text x="41.6" y="592.6" font-size="8.65" font-weight="bold" text-anchor="start" fill="#1a1a1a">C57BL6/J</text>
<linearGradient id="ga11" gradientUnits="userSpaceOnUse" x1="92" y1="0" x2="170.4" y2="0"><stop offset="0" stop-color="#fbfbfb"/><stop offset="0.5" stop-color="#d4d4d4"/><stop offset="1" stop-color="#8d8d8d"/></linearGradient>
<path d="M92 499.35 L162.7 499.35 L162.7 496.2 L170.4 503.1 L162.7 510 L162.7 506.85 L92 506.85 Z" fill="url(#ga11)"/>
<linearGradient id="ga12" gradientUnits="userSpaceOnUse" x1="92" y1="0" x2="170.4" y2="0"><stop offset="0" stop-color="#fbfbfb"/><stop offset="0.5" stop-color="#d4d4d4"/><stop offset="1" stop-color="#8d8d8d"/></linearGradient>
<path d="M92 537.05 L162.7 537.05 L162.7 533.9 L170.4 540.8 L162.7 547.7 L162.7 544.55 L92 544.55 Z" fill="url(#ga12)"/>
<linearGradient id="ga13" gradientUnits="userSpaceOnUse" x1="92" y1="0" x2="172.7" y2="0"><stop offset="0" stop-color="#fbfbfb"/><stop offset="0.5" stop-color="#d4d4d4"/><stop offset="1" stop-color="#8d8d8d"/></linearGradient>
<path d="M92 574.15 L165 574.15 L165 571 L172.7 577.9 L165 584.8 L165 581.65 L92 581.65 Z" fill="url(#ga13)"/>
<linearGradient id="ga14" gradientUnits="userSpaceOnUse" x1="92" y1="0" x2="173.2" y2="0"><stop offset="0" stop-color="#fbfbfb"/><stop offset="0.5" stop-color="#d4d4d4"/><stop offset="1" stop-color="#8d8d8d"/></linearGradient>
<path d="M92 612.65 L165.5 612.65 L165.5 609.5 L173.2 616.4 L165.5 623.3 L165.5 620.15 L92 620.15 Z" fill="url(#ga14)"/>
<text x="119.7" y="496.6" font-size="8.8" font-weight="bold" text-anchor="start" fill="#1a1a1a">EAU</text>
<text x="102.6" y="535" font-size="8.8" font-weight="bold" text-anchor="start" fill="#1a1a1a">EAU + HDCA</text>
<text x="112.6" y="573.7" font-size="8.8" font-weight="bold" fill="#1a1a1a" textLength="37.2" lengthAdjust="spacing">Mø<tspan font-size="5.5" dy="-3.5">-</tspan><tspan dy="3.5"> EAU</tspan></text>
<text x="94.7" y="611.3" font-size="8.8" font-weight="bold" fill="#1a1a1a" textLength="72.2" lengthAdjust="spacing">Mø<tspan font-size="5.5" dy="-3.5">-</tspan><tspan dy="3.5"> EAU + HDCA</tspan></text>
<text x="192.2" y="499.1" font-size="10" font-weight="bold" text-anchor="start" fill="#1a1a1a">M</text>
<text x="257.5" y="510.8" font-size="9.4" font-weight="bold" text-anchor="middle" fill="#1a1a1a" textLength="18.9" lengthAdjust="spacingAndGlyphs">RPM</text>
<text x="221.4" y="521.6" font-size="6.9" fill="#222" textLength="71.5" lengthAdjust="spacingAndGlyphs">CD45<tspan font-size="4.8" dy="-3">+</tspan><tspan dy="3"> F4/80</tspan><tspan font-size="4.8" dy="-3">hi</tspan><tspan dy="3"> CD11b</tspan><tspan font-size="4.8" dy="-3">lo</tspan></text>
<text x="205.3" y="572.8" font-size="7.65" font-weight="bold" text-anchor="middle" fill="#222" transform="rotate(-90 205.3 572.8)">Percentage (%)</text>
<rect x="227.9" y="577.47" width="13" height="35.73" fill="#ffffff" stroke="#cf4b2b" stroke-width="2" rx="0"/>
<rect x="248.5" y="609.98" width="13" height="3.22" fill="#ffffff" stroke="#f3abab" stroke-width="1.5" rx="0"/>
<rect x="269.7" y="557.32" width="13" height="55.88" fill="#ffffff" stroke="#3d4a7c" stroke-width="2" rx="0"/>
<rect x="290.4" y="606.48" width="13" height="6.72" fill="#ffffff" stroke="#c5cae6" stroke-width="1.5" rx="0"/>
<line x1="234.4" y1="583.65" x2="234.4" y2="572.09" stroke="#a2a2a2" stroke-width="1.8"/>
<line x1="231.2" y1="583.65" x2="237.6" y2="583.65" stroke="#a2a2a2" stroke-width="1.8"/>
<line x1="231.2" y1="572.09" x2="237.6" y2="572.09" stroke="#a2a2a2" stroke-width="1.8"/>
<line x1="255" y1="611.59" x2="255" y2="608.36" stroke="#a2a2a2" stroke-width="1.8"/>
<line x1="251.8" y1="611.59" x2="258.2" y2="611.59" stroke="#a2a2a2" stroke-width="1.8"/>
<line x1="251.8" y1="608.36" x2="258.2" y2="608.36" stroke="#a2a2a2" stroke-width="1.8"/>
<line x1="276.2" y1="572.09" x2="276.2" y2="543.35" stroke="#a2a2a2" stroke-width="1.8"/>
<line x1="273" y1="572.09" x2="279.4" y2="572.09" stroke="#a2a2a2" stroke-width="1.8"/>
<line x1="273" y1="543.35" x2="279.4" y2="543.35" stroke="#a2a2a2" stroke-width="1.8"/>
<line x1="296.9" y1="608.1" x2="296.9" y2="603.8" stroke="#a2a2a2" stroke-width="1.8"/>
<line x1="293.7" y1="608.1" x2="300.1" y2="608.1" stroke="#a2a2a2" stroke-width="1.8"/>
<line x1="293.7" y1="603.8" x2="300.1" y2="603.8" stroke="#a2a2a2" stroke-width="1.8"/>
<circle cx="230.4" cy="573.17" r="2" fill="#cf4b2b"/>
<circle cx="237.4" cy="573.17" r="2" fill="#cf4b2b"/>
<circle cx="234.4" cy="579.89" r="2" fill="#cf4b2b"/>
<circle cx="234.4" cy="584.45" r="2" fill="#cf4b2b"/>
<circle cx="250" cy="611.05" r="2" fill="#f3abab"/>
<circle cx="255" cy="609.44" r="2" fill="#f3abab"/>
<circle cx="260" cy="609.44" r="2" fill="#f3abab"/>
<circle cx="257" cy="610.78" r="2" fill="#f3abab"/>
<circle cx="276.2" cy="537.44" r="2" fill="#3d4a7c"/>
<circle cx="276.2" cy="556.78" r="2" fill="#3d4a7c"/>
<circle cx="276.2" cy="563.5" r="2" fill="#3d4a7c"/>
<circle cx="276.2" cy="566.18" r="2" fill="#3d4a7c"/>
<circle cx="291.9" cy="607.56" r="2" fill="#c5cae6"/>
<circle cx="296.9" cy="604.6" r="2" fill="#c5cae6"/>
<circle cx="301.9" cy="604.07" r="2" fill="#c5cae6"/>
<circle cx="296.9" cy="606.75" r="2" fill="#c5cae6"/>
<line x1="220.3" y1="532.1" x2="220.3" y2="614.1" stroke="#9d9da1" stroke-width="1.8"/>
<line x1="219.4" y1="613.2" x2="311.4" y2="613.2" stroke="#9d9da1" stroke-width="1.8"/>
<line x1="217.5" y1="613.2" x2="220.3" y2="613.2" stroke="#9d9da1" stroke-width="1.2"/>
<text x="216.8" y="615.58" font-size="6.6" font-weight="normal" text-anchor="end" fill="#3a3a3a">0</text>
<line x1="217.5" y1="586.33" x2="220.3" y2="586.33" stroke="#9d9da1" stroke-width="1.2"/>
<text x="216.8" y="588.71" font-size="6.6" font-weight="normal" text-anchor="end" fill="#3a3a3a">10</text>
<line x1="217.5" y1="559.47" x2="220.3" y2="559.47" stroke="#9d9da1" stroke-width="1.2"/>
<text x="216.8" y="561.84" font-size="6.6" font-weight="normal" text-anchor="end" fill="#3a3a3a">20</text>
<line x1="217.5" y1="532.6" x2="220.3" y2="532.6" stroke="#9d9da1" stroke-width="1.2"/>
<text x="216.8" y="534.98" font-size="6.6" font-weight="normal" text-anchor="end" fill="#3a3a3a">30</text>
<line x1="234.4" y1="613.2" x2="234.4" y2="615.8" stroke="#9d9da1" stroke-width="1.5"/>
<line x1="255" y1="613.2" x2="255" y2="615.8" stroke="#9d9da1" stroke-width="1.5"/>
<line x1="276.2" y1="613.2" x2="276.2" y2="615.8" stroke="#9d9da1" stroke-width="1.5"/>
<line x1="296.9" y1="613.2" x2="296.9" y2="615.8" stroke="#9d9da1" stroke-width="1.5"/>
<line x1="233.3" y1="564" x2="252.8" y2="564" stroke="#333" stroke-width="1.2"/>
<path d="M237.85 554.5 L237.85 557.9 M236.38 555.35 L239.32 557.05 M236.38 557.05 L239.32 555.35 M243.05 554.5 L243.05 557.9 M241.58 555.35 L244.52 557.05 M241.58 557.05 L244.52 555.35 M248.25 554.5 L248.25 557.9 M246.78 555.35 L249.72 557.05 M246.78 557.05 L249.72 555.35 " stroke="#111" stroke-width="1.3" stroke-linecap="round" fill="none"/>
<line x1="276.2" y1="534.1" x2="297.3" y2="534.1" stroke="#333" stroke-width="1.2"/>
<path d="M281.55 524.4 L281.55 527.8 M280.08 525.25 L283.02 526.95 M280.08 526.95 L283.02 525.25 M286.75 524.4 L286.75 527.8 M285.28 525.25 L288.22 526.95 M285.28 526.95 L288.22 525.25 M291.95 524.4 L291.95 527.8 M290.48 525.25 L293.42 526.95 M290.48 526.95 L293.42 525.25 " stroke="#111" stroke-width="1.3" stroke-linecap="round" fill="none"/>
<text x="323.3" y="496.9" font-size="10" font-weight="bold" text-anchor="start" fill="#1a1a1a">N</text>
<text x="382.3" y="511.8" font-size="8.6" font-weight="bold" text-anchor="start" fill="#1a1a1a">Oleic acid</text>
<text x="338.2" y="574.7" font-size="7.7" font-weight="bold" text-anchor="middle" fill="#222" transform="rotate(-90 338.2 574.7)">Serum (μM)</text>
<rect x="365.65" y="574.8" width="12.5" height="40.2" fill="#ffffff" stroke="#cf4b2b" stroke-width="2" rx="0"/>
<rect x="386.15" y="592.49" width="12.5" height="22.51" fill="#ffffff" stroke="#f3abab" stroke-width="1.5" rx="0"/>
<rect x="406.85" y="568.37" width="12.5" height="46.63" fill="#ffffff" stroke="#3d4a7c" stroke-width="2" rx="0"/>
<rect x="428.05" y="587.99" width="12.5" height="27.01" fill="#ffffff" stroke="#c5cae6" stroke-width="1.5" rx="0"/>
<line x1="371.9" y1="580.43" x2="371.9" y2="567.56" stroke="#a2a2a2" stroke-width="1.8"/>
<line x1="368.7" y1="580.43" x2="375.1" y2="580.43" stroke="#a2a2a2" stroke-width="1.8"/>
<line x1="368.7" y1="567.56" x2="375.1" y2="567.56" stroke="#a2a2a2" stroke-width="1.8"/>
<line x1="392.4" y1="599.72" x2="392.4" y2="582.84" stroke="#a2a2a2" stroke-width="1.8"/>
<line x1="389.2" y1="599.72" x2="395.6" y2="599.72" stroke="#a2a2a2" stroke-width="1.8"/>
<line x1="389.2" y1="582.84" x2="395.6" y2="582.84" stroke="#a2a2a2" stroke-width="1.8"/>
<line x1="413.1" y1="580.43" x2="413.1" y2="555.5" stroke="#a2a2a2" stroke-width="1.8"/>
<line x1="409.9" y1="580.43" x2="416.3" y2="580.43" stroke="#a2a2a2" stroke-width="1.8"/>
<line x1="409.9" y1="555.5" x2="416.3" y2="555.5" stroke="#a2a2a2" stroke-width="1.8"/>
<line x1="434.3" y1="601.33" x2="434.3" y2="574" stroke="#a2a2a2" stroke-width="1.8"/>
<line x1="431.1" y1="601.33" x2="437.5" y2="601.33" stroke="#a2a2a2" stroke-width="1.8"/>
<line x1="431.1" y1="574" x2="437.5" y2="574" stroke="#a2a2a2" stroke-width="1.8"/>
<circle cx="367.9" cy="570.78" r="2.1" fill="#cf4b2b"/>
<circle cx="374.9" cy="569.17" r="2.1" fill="#cf4b2b"/>
<circle cx="376.4" cy="573.19" r="2.1" fill="#cf4b2b"/>
<circle cx="367.9" cy="577.21" r="2.1" fill="#cf4b2b"/>
<circle cx="372.9" cy="584.45" r="2.1" fill="#cf4b2b"/>
<circle cx="392.4" cy="582.84" r="2.1" fill="#f3abab"/>
<circle cx="388.4" cy="590.88" r="2.1" fill="#f3abab"/>
<circle cx="395.9" cy="590.88" r="2.1" fill="#f3abab"/>
<circle cx="392.4" cy="602.94" r="2.1" fill="#f3abab"/>
<circle cx="413.1" cy="552.29" r="2.1" fill="#3d4a7c"/>
<circle cx="413.1" cy="565.15" r="2.1" fill="#3d4a7c"/>
<circle cx="413.1" cy="568.37" r="2.1" fill="#3d4a7c"/>
<circle cx="413.1" cy="581.23" r="2.1" fill="#3d4a7c"/>
<circle cx="434.3" cy="574" r="2.1" fill="#c5cae6"/>
<circle cx="434.3" cy="579.62" r="2.1" fill="#c5cae6"/>
<circle cx="430.8" cy="598.92" r="2.1" fill="#c5cae6"/>
<circle cx="437.8" cy="597.31" r="2.1" fill="#c5cae6"/>
<line x1="356.2" y1="534.1" x2="356.2" y2="615.9" stroke="#9d9da1" stroke-width="1.8"/>
<line x1="355.3" y1="615" x2="448.8" y2="615" stroke="#9d9da1" stroke-width="1.8"/>
<line x1="353.4" y1="615" x2="356.2" y2="615" stroke="#9d9da1" stroke-width="1.2"/>
<text x="354.2" y="617.52" font-size="7" font-weight="normal" text-anchor="end" fill="#3a3a3a">0</text>
<line x1="353.4" y1="598.92" x2="356.2" y2="598.92" stroke="#9d9da1" stroke-width="1.2"/>
<text x="354.2" y="601.44" font-size="7" font-weight="normal" text-anchor="end" fill="#3a3a3a">100</text>
<line x1="353.4" y1="582.84" x2="356.2" y2="582.84" stroke="#9d9da1" stroke-width="1.2"/>
<text x="354.2" y="585.36" font-size="7" font-weight="normal" text-anchor="end" fill="#3a3a3a">200</text>
<line x1="353.4" y1="566.76" x2="356.2" y2="566.76" stroke="#9d9da1" stroke-width="1.2"/>
<text x="354.2" y="569.28" font-size="7" font-weight="normal" text-anchor="end" fill="#3a3a3a">300</text>
<line x1="353.4" y1="550.68" x2="356.2" y2="550.68" stroke="#9d9da1" stroke-width="1.2"/>
<text x="354.2" y="553.2" font-size="7" font-weight="normal" text-anchor="end" fill="#3a3a3a">400</text>
<line x1="353.4" y1="534.6" x2="356.2" y2="534.6" stroke="#9d9da1" stroke-width="1.2"/>
<text x="354.2" y="537.12" font-size="7" font-weight="normal" text-anchor="end" fill="#3a3a3a">500</text>
<line x1="371.9" y1="615" x2="371.9" y2="617.6" stroke="#9d9da1" stroke-width="1.5"/>
<line x1="392.4" y1="615" x2="392.4" y2="617.6" stroke="#9d9da1" stroke-width="1.5"/>
<line x1="413.1" y1="615" x2="413.1" y2="617.6" stroke="#9d9da1" stroke-width="1.5"/>
<line x1="434.3" y1="615" x2="434.3" y2="617.6" stroke="#9d9da1" stroke-width="1.5"/>
<line x1="373.1" y1="556.9" x2="392.2" y2="556.9" stroke="#333" stroke-width="1.2"/>
<path d="M380.05 547.2 L380.05 550.6 M378.58 548.05 L381.52 549.75 M378.58 549.75 L381.52 548.05 M385.25 547.2 L385.25 550.6 M383.78 548.05 L386.72 549.75 M383.78 549.75 L386.72 548.05 " stroke="#111" stroke-width="1.3" stroke-linecap="round" fill="none"/>
<line x1="414.6" y1="543.9" x2="434.1" y2="543.9" stroke="#333" stroke-width="1.2"/>
<path d="M424.35 534.2 L424.35 537.6 M422.88 535.05 L425.82 536.75 M422.88 536.75 L425.82 535.05 " stroke="#111" stroke-width="1.3" stroke-linecap="round" fill="none"/>
<circle cx="453.6" cy="502.6" r="2.1" fill="#a82020"/>
<text x="458.6" y="505" font-size="6.5" font-weight="bold" text-anchor="start" fill="#222">EAU</text>
<circle cx="453.6" cy="515.7" r="2.1" fill="#f0a8a8"/>
<text x="459.7" y="518.1" font-size="6.5" font-weight="bold" fill="#222">MΦ<tspan font-size="4" dy="-2.5">-</tspan><tspan dy="2.5">EAU</tspan></text>
<circle cx="453.6" cy="528.5" r="2.1" fill="#3a4670"/>
<text x="458.6" y="530.9" font-size="6.5" font-weight="bold" text-anchor="start" fill="#222">EAU + HDCA</text>
<circle cx="453.6" cy="541.6" r="2.1" fill="#d2d6ea"/>
<text x="460.7" y="544" font-size="6.5" font-weight="bold" fill="#222">MΦ<tspan font-size="4" dy="-2.5">-</tspan><tspan dy="2.5">EAU + HDCA</tspan></text>
<text x="524.9" y="496.2" font-size="10" font-weight="bold" text-anchor="start" fill="#1a1a1a">O</text>
<text x="596.4" y="500.7" font-size="8.6" font-weight="bold" text-anchor="middle" fill="#111">ω3/ω6</text>
<rect x="588" y="506.4" width="17.8" height="111.1" fill="#d0d0d0" stroke="none" stroke-width="1" rx="0"/>
<rect x="589.8" y="508" width="14.2" height="27.1" fill="#e6e8f1" stroke="none" stroke-width="1" rx="0"/>
<rect x="589.8" y="535" width="14.2" height="27.1" fill="#b3b8d6" stroke="none" stroke-width="1" rx="0"/>
<rect x="589.8" y="562" width="14.2" height="27.4" fill="#f1c8cb" stroke="none" stroke-width="1" rx="0"/>
<rect x="589.8" y="589.3" width="14.2" height="26.6" fill="#eeadb1" stroke="none" stroke-width="1" rx="0"/>
<text x="585.3" y="524.4" font-size="8.2" font-weight="bold" text-anchor="end" fill="#222">EAU</text>
<text x="585.3" y="579" font-size="8.2" font-weight="bold" text-anchor="end" fill="#222">EAU + HDCA</text>
<text x="585.3" y="551.4" font-size="8.2" font-weight="bold" text-anchor="end" fill="#222">Mø<tspan font-size="4.5" dy="-3">-</tspan><tspan dy="3"> EAU</tspan></text>
<text x="585.3" y="605.9" font-size="8.2" font-weight="bold" text-anchor="end" fill="#222">Mø<tspan font-size="4.5" dy="-3">-</tspan><tspan dy="3">EAU + HDCA</tspan></text>
<line x1="585.6" y1="521.5" x2="588" y2="521.5" stroke="#aaa" stroke-width="1.2"/>
<line x1="585.6" y1="548.5" x2="588" y2="548.5" stroke="#aaa" stroke-width="1.2"/>
<line x1="585.6" y1="576.1" x2="588" y2="576.1" stroke="#aaa" stroke-width="1.2"/>
<line x1="585.6" y1="603" x2="588" y2="603" stroke="#aaa" stroke-width="1.2"/>
<text x="610.9" y="518.6" font-size="7.5" font-weight="bold" text-anchor="start" fill="#222">Z-score</text>
<linearGradient id="gO" x1="0" y1="0" x2="0" y2="1"><stop offset="0" stop-color="#eeadb1"/><stop offset="0.45" stop-color="#ffffff"/><stop offset="1" stop-color="#a9b0d4"/></linearGradient>
<rect x="620.6" y="524.2" width="8.3" height="44.5" fill="url(#gO)" stroke="none" stroke-width="1" rx="0"/>
<text x="632.3" y="529.6" font-size="6.8" font-weight="normal" text-anchor="start" fill="#333">1</text>
<text x="632.3" y="546.9" font-size="6.8" font-weight="normal" text-anchor="start" fill="#333">0</text>
<text x="631" y="565.1" font-size="6.8" font-weight="normal" text-anchor="start" fill="#333">-1</text>
</svg>
</body></html>
